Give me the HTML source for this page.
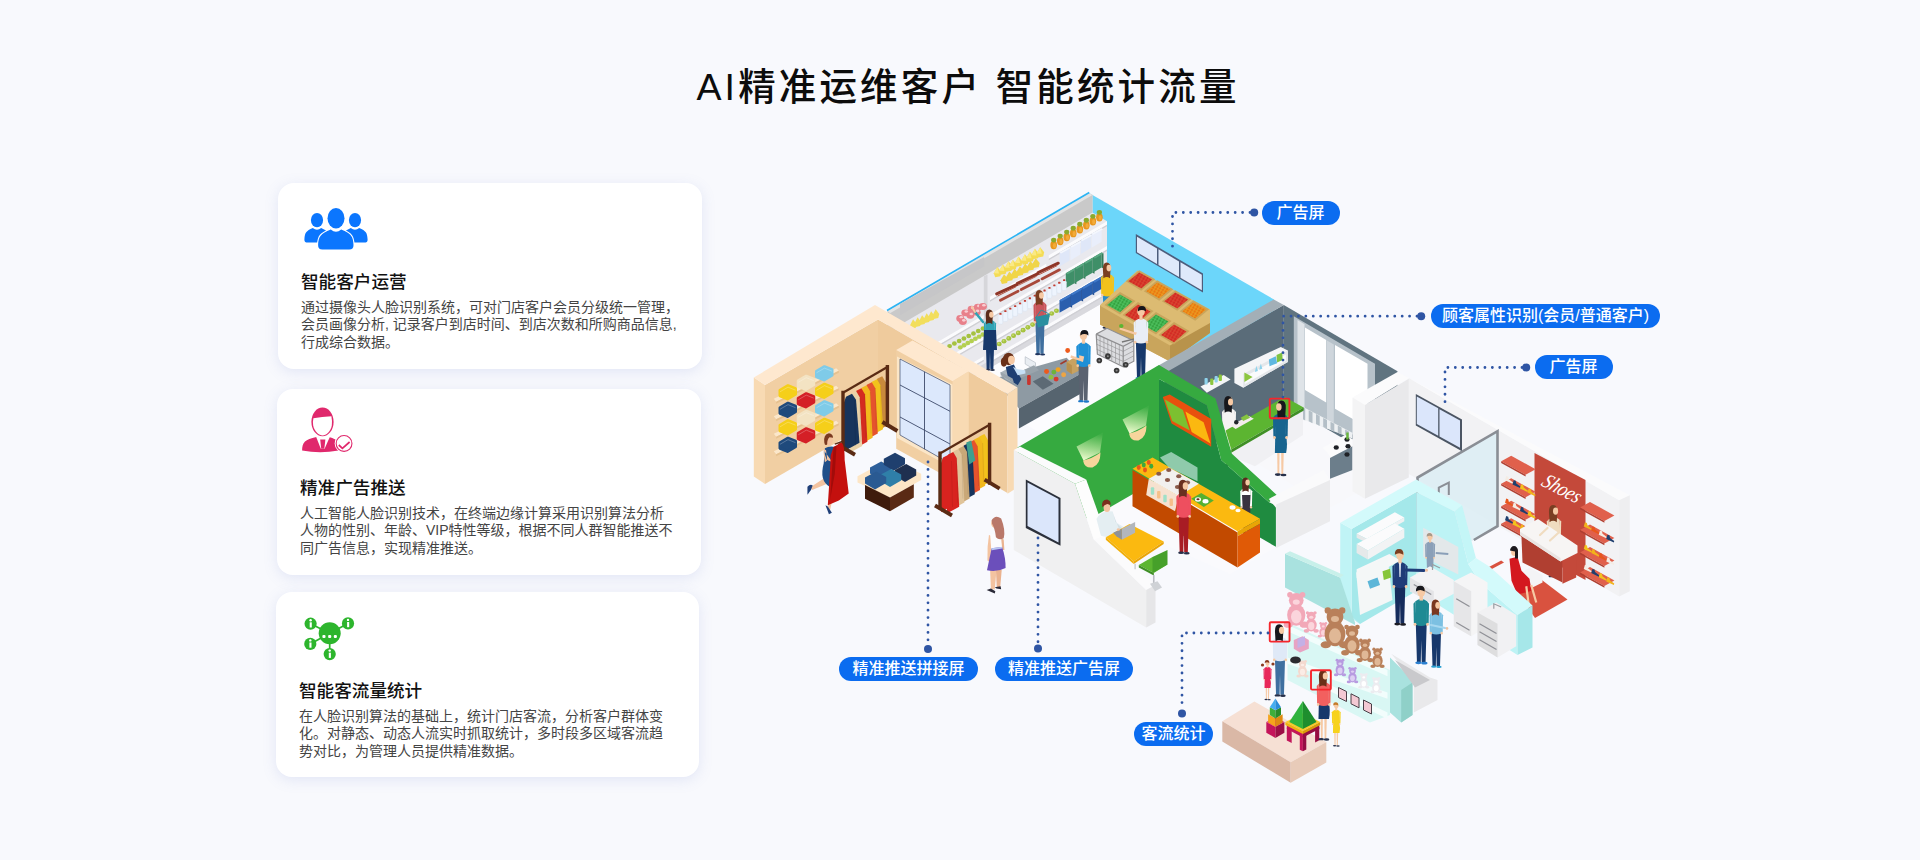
<!DOCTYPE html>
<html lang="zh-CN">
<head>
<meta charset="utf-8">
<title>AI精准运维客户 智能统计流量</title>
<style>
*{margin:0;padding:0;box-sizing:border-box}
html,body{width:1920px;height:860px;overflow:hidden}
body{background:#f8f9fd;font-family:"Liberation Sans","Noto Sans CJK SC",sans-serif;position:relative;color:#111}
h1{position:absolute;left:0;top:58px;width:1936px;text-align:center;font-size:37.5px;line-height:58px;font-weight:500;letter-spacing:3.15px;color:#0c0c0c}
.card{position:absolute;background:#fff;border-radius:16px;box-shadow:0 3px 14px rgba(120,135,210,.17)}
.card svg{position:absolute}
.card h3{position:absolute;left:23px;font-size:17.6px;line-height:24px;font-weight:500;color:#111;white-space:nowrap}
.card p{position:absolute;left:23px;font-size:14px;line-height:17.9px;color:#444;white-space:nowrap}
.lab{position:absolute;background:#0b6cf0;color:#fff;border-radius:12px;height:24px;line-height:23px;font-size:16px;font-weight:500;text-align:center;white-space:nowrap}
#ill{position:absolute;left:0;top:0}
</style>
</head>
<body>
<h1>AI精准运维客户 智能统计流量</h1>

<div class="card" style="left:278px;top:183px;width:424px;height:186px">
  <h3 style="top:86.5px">智能客户运营</h3>
  <p style="top:115.5px">通过摄像头人脸识别系统，可对门店客户会员分级统一管理，<br>会员画像分析, 记录客户到店时间、到店次数和所购商品信息,<br>行成综合数据。</p>
</div>
<div class="card" style="left:277px;top:389px;width:424px;height:186px">
  <h3 style="top:86.5px">精准广告推送</h3>
  <p style="top:115.5px">人工智能人脸识别技术，在终端边缘计算采用识别算法分析<br>人物的性别、年龄、VIP特性等级，根据不同人群智能推送不<br>同广告信息，实现精准推送。</p>
</div>
<div class="card" style="left:276px;top:592px;width:423px;height:185px">
  <h3 style="top:86.5px">智能客流量统计</h3>
  <p style="top:115.5px">在人脸识别算法的基础上，统计门店客流，分析客户群体变<br>化。对静态、动态人流实时抓取统计，多时段多区域客流趋<br>势对比，为管理人员提供精准数据。</p>
</div>

<svg id="icons" width="1920" height="860" viewBox="0 0 1920 860" style="position:absolute;left:0;top:0">
<g fill="#0b76fe">
 <ellipse cx="317" cy="220.1" rx="6.1" ry="7.2"/><ellipse cx="355" cy="220.1" rx="6.1" ry="7.2"/>
 <path d="M304.4 239.4C304.8 232.6 306 231 312.8 228Q317 231.6 321.2 228L326 230.4V242.6H308Q304.2 242.6 304.4 239.4Z"/>
 <path d="M367.6 239.4C367.2 232.6 366 231 359.2 228Q355 231.6 350.8 228L346 230.4V242.6H364Q367.8 242.6 367.6 239.4Z"/>
 <path d="M318.1 245C318.4 236.4 320.6 233.6 330.8 229.4Q336 234.2 341.2 229.4C351.4 233.6 353.2 236.4 353.5 245Q353.6 249.6 349.2 249.6H322.4Q318 249.6 318.1 245Z" stroke="#fff" stroke-width="2.2" paint-order="stroke"/>
 <ellipse cx="336" cy="218.3" rx="8.5" ry="10.2" stroke="#fff" stroke-width="2" paint-order="stroke"/>
</g>
<g fill="#e0286c">
 <ellipse cx="322.5" cy="421.9" rx="11.1" ry="14.3"/>
 <path d="M313.4 418.3Q322 416.6 331.4 416.3Q332.4 421 331.8 425.6C330.8 431.6 326 435.6 322.6 435.6C319.2 435.6 314.2 431.6 313.2 425.6Q312.6 421.4 313.4 418.3Z" fill="#fff"/>
 <path d="M302.1 450.6C302.2 442 305 439.8 316.4 437H328.6C340 439.8 338.6 443 338.6 450.6Q320 454 302.1 450.6Z"/>
 <path d="M316.2 436.9H329.8L324.6 448.8H320.8Z" fill="#fff"/>
 <path d="M320.2 439.4H325.4L324.3 448.8H321.2Z"/>
 <circle cx="344.05" cy="443.45" r="9.4" fill="#fff"/>
 <circle cx="344.05" cy="443.45" r="7.9" fill="#fff" stroke="#e0286c" stroke-width="1.1"/>
 <path d="M338.8 445L342.4 448.3L349.6 442" fill="none" stroke="#e0286c" stroke-width="1.7"/>
</g>
<g fill="#2db52d" stroke="#2db52d">
 <g stroke-width="1.7"><line x1="329.7" y1="633.3" x2="310.6" y2="623.7"/><line x1="329.7" y1="633.3" x2="348" y2="623.4"/><line x1="329.7" y1="633.3" x2="310.3" y2="643.9"/><line x1="329.7" y1="633.3" x2="329.7" y2="654.1"/></g>
 <g stroke="none"><circle cx="329.7" cy="633.3" r="11"/><circle cx="310.6" cy="623.7" r="6.1"/><circle cx="348" cy="623.4" r="6.1"/><circle cx="310.3" cy="643.9" r="6.1"/><circle cx="329.7" cy="654.1" r="6.1"/></g>
 <g fill="#fff" stroke="none">
  <rect x="322.4" y="634.9" width="3.1" height="3" rx="1"/><rect x="328.15" y="634.9" width="3.1" height="3" rx="1"/><rect x="333.8" y="634.9" width="3.1" height="3" rx="1"/>
  <circle cx="310.6" cy="620.2" r="1.2"/><rect x="309.7" y="622.3" width="2.1" height="5.2" />
  <circle cx="348" cy="619.9" r="1.2"/><rect x="347.1" y="622" width="2.1" height="5.2"/>
  <circle cx="310.3" cy="640.4" r="1.2"/><rect x="309.4" y="642.5" width="2.1" height="5.2"/>
  <circle cx="329.7" cy="650.6" r="1.2"/><rect x="328.8" y="652.7" width="2.1" height="5.2"/>
 </g>
</g>
</svg>
<svg id="ill" width="1920" height="860" viewBox="0 0 1920 860">
<defs><pattern id="pr" width="3.2" height="2.8" patternUnits="userSpaceOnUse" patternTransform="rotate(30)"><rect width="3.2" height="2.8" fill="#c92a22"/><circle cx="1.6" cy="1.4" r="1.25" fill="#ee3a30"/><circle cx="1.6" cy="0.9" r="0.4" fill="#5a9a3a"/></pattern><pattern id="po" width="3.2" height="2.8" patternUnits="userSpaceOnUse" patternTransform="rotate(30)"><rect width="3.2" height="2.8" fill="#e2740e"/><circle cx="1.6" cy="1.4" r="1.25" fill="#ff9a1e"/><circle cx="1.6" cy="0.9" r="0.4" fill="#6aa83a"/></pattern><pattern id="pg" width="3.2" height="2.8" patternUnits="userSpaceOnUse" patternTransform="rotate(30)"><rect width="3.2" height="2.8" fill="#2f9a3a"/><circle cx="1.6" cy="1.4" r="1.25" fill="#55cc66"/><circle cx="1.6" cy="0.9" r="0.4" fill="#2a8030"/></pattern></defs>
<polygon points="1089,193 1274,299.5 1274,400 1089,292" fill="#6cd6fa"/>
<polygon points="1135.8,234 1203,273.5 1203,292.5 1135.8,253" fill="#4d5d7c"/>
<polygon points="1137,236.7 1157,248.5 1157,264 1137,252.2" fill="#dfe9fb"/>
<polygon points="1158.5,249.3 1179,261.4 1179,276.9 1158.5,264.9" fill="#dfe9fb"/>
<polygon points="1180.5,262.3 1201.8,274.7 1201.8,290.2 1180.5,277.8" fill="#dfe9fb"/>
<polygon points="1089,292 1274,400 1130,484 930,370" fill="#fcfcfe"/>
<polygon points="1088.8,193 1092.5,195 1092.5,212.5 1107,221.2 1107,300.5 915,411.2 887.5,395 887.5,310" fill="#e9e9ee"/>
<polygon points="1107,293 915,403.8 915,411.2 1107,300.5" fill="#d9d9de"/>
<polygon points="1088.8,193 1092.5,195 1092.5,212.5 890,330.8 887.5,329.5 887.5,310" fill="#c9c9c9"/>
<polygon points="1088.8,193 1092.5,195 890,313.2 887.5,310.8" fill="#e3e3e3"/>
<line x1="1089.25" y1="192.5" x2="887" y2="310.5" stroke="#2bb4f4" stroke-width="1.6"/>
<polygon points="900,304 984.1,256.9 984.1,266.3 900,315.3" fill="#c6c6c8"/>
<polygon points="983.8,276.2 987.5,274.5 987.5,340 983.8,342.5" fill="#d6d6da"/>
<polygon points="1107,221.2 1048.8,255.3 1048.8,258.8 1107,224.8" fill="#fbfbfd"/>
<polygon points="1107,224.8 1048.8,258.8 1048.8,260.3 1107,226.2" fill="#cfcfd4"/>
<polygon points="1107,246 990,314.4 990,317.9 1107,249.5" fill="#fbfbfd"/>
<polygon points="1107,249.5 990,317.9 990,319.4 1107,251" fill="#cfcfd4"/>
<polygon points="1107,271.5 990,339.9 990,343.4 1107,275" fill="#fbfbfd"/>
<polygon points="1107,275 990,343.4 990,344.9 1107,276.5" fill="#cfcfd4"/>
<polygon points="1107,290 990,358.4 990,361.9 1107,293.5" fill="#fbfbfd"/>
<polygon points="1107,293.5 990,361.9 990,363.4 1107,295" fill="#cfcfd4"/>
<polygon points="1046.2,263.8 990,296.7 990,300.2 1046.2,267.2" fill="#fbfbfd"/>
<polygon points="1046.2,267.2 990,300.2 990,301.7 1046.2,268.8" fill="#cfcfd4"/>
<polygon points="983.8,315 915,355.2 915,358.7 983.8,318.5" fill="#fbfbfd"/>
<polygon points="983.8,318.5 915,358.7 915,360.2 983.8,320" fill="#cfcfd4"/>
<polygon points="983.8,336.2 925,370.6 925,374.1 983.8,339.8" fill="#fbfbfd"/>
<polygon points="983.8,339.8 925,374.1 925,375.6 983.8,341.2" fill="#cfcfd4"/>
<polygon points="983.8,356.2 940,381.8 940,385.3 983.8,359.8" fill="#fbfbfd"/>
<polygon points="983.8,359.8 940,385.3 940,386.8 983.8,361.2" fill="#cfcfd4"/>
<ellipse cx="1053.69" cy="245.03" rx="3.3" ry="4.2" fill="#e8961e"/>
<ellipse cx="1053.69" cy="240.03" rx="2.6" ry="2.4" fill="#8aaa2e"/>
<ellipse cx="1054.49" cy="245.53" rx="1.6" ry="2.6" fill="#f2ab3a"/>
<ellipse cx="1060.22" cy="241.08" rx="3.3" ry="4.2" fill="#e8961e"/>
<ellipse cx="1060.22" cy="236.08" rx="2.6" ry="2.4" fill="#8aaa2e"/>
<ellipse cx="1061.02" cy="241.58" rx="1.6" ry="2.6" fill="#f2ab3a"/>
<ellipse cx="1066.75" cy="237.12" rx="3.3" ry="4.2" fill="#e8961e"/>
<ellipse cx="1066.75" cy="232.12" rx="2.6" ry="2.4" fill="#8aaa2e"/>
<ellipse cx="1067.55" cy="237.62" rx="1.6" ry="2.6" fill="#f2ab3a"/>
<ellipse cx="1073.28" cy="233.16" rx="3.3" ry="4.2" fill="#e8961e"/>
<ellipse cx="1073.28" cy="228.16" rx="2.6" ry="2.4" fill="#8aaa2e"/>
<ellipse cx="1074.08" cy="233.66" rx="1.6" ry="2.6" fill="#f2ab3a"/>
<ellipse cx="1079.81" cy="229.21" rx="3.3" ry="4.2" fill="#e8961e"/>
<ellipse cx="1079.81" cy="224.21" rx="2.6" ry="2.4" fill="#8aaa2e"/>
<ellipse cx="1080.61" cy="229.71" rx="1.6" ry="2.6" fill="#f2ab3a"/>
<ellipse cx="1086.34" cy="225.25" rx="3.3" ry="4.2" fill="#e8961e"/>
<ellipse cx="1086.34" cy="220.25" rx="2.6" ry="2.4" fill="#8aaa2e"/>
<ellipse cx="1087.14" cy="225.75" rx="1.6" ry="2.6" fill="#f2ab3a"/>
<ellipse cx="1092.87" cy="221.3" rx="3.3" ry="4.2" fill="#e8961e"/>
<ellipse cx="1092.87" cy="216.3" rx="2.6" ry="2.4" fill="#8aaa2e"/>
<ellipse cx="1093.67" cy="221.8" rx="1.6" ry="2.6" fill="#f2ab3a"/>
<ellipse cx="1099.4" cy="217.34" rx="3.3" ry="4.2" fill="#e8961e"/>
<ellipse cx="1099.4" cy="212.34" rx="2.6" ry="2.4" fill="#8aaa2e"/>
<ellipse cx="1100.2" cy="217.84" rx="1.6" ry="2.6" fill="#f2ab3a"/>
<polygon points="1059.6,252.6 1069.6,247.1 1069.6,260.6 1059.6,266.6" fill="#dfe7f8"/>
<polygon points="1059.6,252.6 1069.6,247.1 1071.1,248.1 1061.1,253.6" fill="#f4f7fd"/>
<polygon points="1070.3,246.4 1080.3,240.9 1080.3,254.4 1070.3,260.4" fill="#e9eefb"/>
<polygon points="1070.3,246.4 1080.3,240.9 1081.8,241.9 1071.8,247.4" fill="#f4f7fd"/>
<polygon points="1080.9,240.1 1090.9,234.6 1090.9,248.1 1080.9,254.1" fill="#dfe7f8"/>
<polygon points="1080.9,240.1 1090.9,234.6 1092.4,235.6 1082.4,241.1" fill="#f4f7fd"/>
<polygon points="1091.6,233.8 1101.6,228.3 1101.6,241.8 1091.6,247.8" fill="#e9eefb"/>
<polygon points="1091.6,233.8 1101.6,228.3 1103.1,229.3 1093.1,234.8" fill="#f4f7fd"/>
<polygon points="1065.8,273.3 1074.4,268.3 1074.4,283.3 1065.8,288.3" fill="#3f8f68"/>
<polygon points="1074.4,268.3 1076.4,269.3 1076.4,284.3 1074.4,283.3" fill="#347a58"/>
<polygon points="1065.8,273.3 1074.4,268.3 1076.4,269.3 1067.8,274.3" fill="#5aa882"/>
<polygon points="1074.8,268 1083.4,263 1083.4,278 1074.8,283" fill="#3f8f68"/>
<polygon points="1083.4,263 1085.4,264 1085.4,279 1083.4,278" fill="#347a58"/>
<polygon points="1074.8,268 1083.4,263 1085.4,264 1076.8,269" fill="#5aa882"/>
<polygon points="1083.9,262.8 1092.5,257.8 1092.5,272.8 1083.9,277.8" fill="#3f8f68"/>
<polygon points="1092.5,257.8 1094.5,258.8 1094.5,273.8 1092.5,272.8" fill="#347a58"/>
<polygon points="1083.9,262.8 1092.5,257.8 1094.5,258.8 1085.9,263.8" fill="#5aa882"/>
<polygon points="1092.9,257.5 1101.5,252.5 1101.5,267.5 1092.9,272.5" fill="#3f8f68"/>
<polygon points="1101.5,252.5 1103.5,253.5 1103.5,268.5 1101.5,267.5" fill="#347a58"/>
<polygon points="1092.9,257.5 1101.5,252.5 1103.5,253.5 1094.9,258.5" fill="#5aa882"/>
<polygon points="1059.5,300.3 1070.1,294.2 1070.1,306.8 1059.5,312.8" fill="#2a5fae"/>
<polygon points="1070.1,294.2 1072.1,295.4 1072.1,307.8 1070.1,306.8" fill="#1f4a8e"/>
<polygon points="1059.5,300.3 1070.1,294.2 1072.1,295.4 1061.5,301.5" fill="#3f78c8"/>
<polygon points="1070.5,294 1081.1,287.9 1081.1,300.5 1070.5,306.5" fill="#2a5fae"/>
<polygon points="1081.1,287.9 1083.1,289.1 1083.1,301.5 1081.1,300.5" fill="#1f4a8e"/>
<polygon points="1070.5,294 1081.1,287.9 1083.1,289.1 1072.5,295.2" fill="#3f78c8"/>
<polygon points="1081.6,287.7 1092.2,281.6 1092.2,294.2 1081.6,300.2" fill="#2a5fae"/>
<polygon points="1092.2,281.6 1094.2,282.8 1094.2,295.2 1092.2,294.2" fill="#1f4a8e"/>
<polygon points="1081.6,287.7 1092.2,281.6 1094.2,282.8 1083.6,288.9" fill="#3f78c8"/>
<polygon points="1092.7,281.5 1103.2,275.4 1103.2,288 1092.7,294" fill="#2a5fae"/>
<polygon points="1103.2,275.4 1105.2,276.6 1105.2,289 1103.2,288" fill="#1f4a8e"/>
<polygon points="1092.7,281.5 1103.2,275.4 1105.2,276.6 1094.7,282.7" fill="#3f78c8"/>
<path d="M993.8 273.29 l3.6 -6.4 l4 5 l-1 4.4 l-5.2 1 z" fill="#f4dc55"/>
<path d="M993.8 273.29 l3.6 -6.4 l1.6 6.6 z" fill="#fae985"/>
<path d="M999.27 270.85 l3.6 -6.4 l4 5 l-1 4.4 l-5.2 1 z" fill="#f4dc55"/>
<path d="M999.27 270.85 l3.6 -6.4 l1.6 6.6 z" fill="#fae985"/>
<path d="M1004.93 267.66 l3.6 -6.4 l4 5 l-1 4.4 l-5.2 1 z" fill="#f4dc55"/>
<path d="M1004.93 267.66 l3.6 -6.4 l1.6 6.6 z" fill="#fae985"/>
<path d="M1009.28 266.12 l3.6 -6.4 l4 5 l-1 4.4 l-5.2 1 z" fill="#f4dc55"/>
<path d="M1009.28 266.12 l3.6 -6.4 l1.6 6.6 z" fill="#fae985"/>
<path d="M1014.93 262.85 l3.6 -6.4 l4 5 l-1 4.4 l-5.2 1 z" fill="#f4dc55"/>
<path d="M1014.93 262.85 l3.6 -6.4 l1.6 6.6 z" fill="#fae985"/>
<path d="M1021.31 260.64 l3.6 -6.4 l4 5 l-1 4.4 l-5.2 1 z" fill="#f4dc55"/>
<path d="M1021.31 260.64 l3.6 -6.4 l1.6 6.6 z" fill="#fae985"/>
<path d="M1026.35 258.13 l3.6 -6.4 l4 5 l-1 4.4 l-5.2 1 z" fill="#f4dc55"/>
<path d="M1026.35 258.13 l3.6 -6.4 l1.6 6.6 z" fill="#fae985"/>
<path d="M1031.32 255.21 l3.6 -6.4 l4 5 l-1 4.4 l-5.2 1 z" fill="#f4dc55"/>
<path d="M1031.32 255.21 l3.6 -6.4 l1.6 6.6 z" fill="#fae985"/>
<path d="M1036.59 253.6 l3.6 -6.4 l4 5 l-1 4.4 l-5.2 1 z" fill="#f4dc55"/>
<path d="M1036.59 253.6 l3.6 -6.4 l1.6 6.6 z" fill="#fae985"/>
<path d="M1000.47 280.14 l3.6 -6 l4 4.8 l-1 4 l-5.2 1 z" fill="#f0d548"/>
<path d="M1005.75 277.5 l3.6 -6 l4 4.8 l-1 4 l-5.2 1 z" fill="#f0d548"/>
<path d="M1011.02 274.87 l3.6 -6 l4 4.8 l-1 4 l-5.2 1 z" fill="#f0d548"/>
<path d="M1016.3 272.23 l3.6 -6 l4 4.8 l-1 4 l-5.2 1 z" fill="#f0d548"/>
<path d="M1021.57 269.59 l3.6 -6 l4 4.8 l-1 4 l-5.2 1 z" fill="#f0d548"/>
<path d="M1026.84 266.95 l3.6 -6 l4 4.8 l-1 4 l-5.2 1 z" fill="#f0d548"/>
<path d="M1032.12 264.32 l3.6 -6 l4 4.8 l-1 4 l-5.2 1 z" fill="#f0d548"/>
<line x1="996.7" y1="293.96" x2="1016.8" y2="284.54" stroke="#8e3527" stroke-width="3" stroke-linecap="round"/>
<line x1="1000.47" y1="300.24" x2="1018.05" y2="291.19" stroke="#a8483a" stroke-width="2.8" stroke-linecap="round"/>
<line x1="997.96" y1="295.84" x2="1015.54" y2="287.05" stroke="#b85a48" stroke-width="1" stroke-linecap="round"/>
<line x1="1017.43" y1="283.28" x2="1037.52" y2="273.86" stroke="#8e3527" stroke-width="3" stroke-linecap="round"/>
<line x1="1021.19" y1="289.56" x2="1038.78" y2="280.52" stroke="#a8483a" stroke-width="2.8" stroke-linecap="round"/>
<line x1="1018.68" y1="285.16" x2="1036.26" y2="276.37" stroke="#b85a48" stroke-width="1" stroke-linecap="round"/>
<line x1="1038.15" y1="272.61" x2="1058.24" y2="263.19" stroke="#8e3527" stroke-width="3" stroke-linecap="round"/>
<line x1="1041.92" y1="278.89" x2="1059.5" y2="269.84" stroke="#a8483a" stroke-width="2.8" stroke-linecap="round"/>
<line x1="1039.4" y1="274.49" x2="1056.99" y2="265.7" stroke="#b85a48" stroke-width="1" stroke-linecap="round"/>
<rect x="998.17" y="314.6" width="4.6" height="9.5" rx="1.3" fill="#eef4fd" stroke="#d5e0f0" stroke-width="0.4"/>
<rect x="999.37" y="312.9" width="2.2" height="1.8" rx="0.5" fill="#c23a30"/>
<rect x="1003.07" y="312.01" width="4.6" height="9.5" rx="1.3" fill="#eef4fd" stroke="#d5e0f0" stroke-width="0.4"/>
<rect x="1004.27" y="310.31" width="2.2" height="1.8" rx="0.5" fill="#c23a30"/>
<rect x="1007.97" y="309.42" width="4.6" height="9.5" rx="1.3" fill="#eef4fd" stroke="#d5e0f0" stroke-width="0.4"/>
<rect x="1009.17" y="307.72" width="2.2" height="1.8" rx="0.5" fill="#c23a30"/>
<rect x="1012.86" y="306.84" width="4.6" height="9.5" rx="1.3" fill="#eef4fd" stroke="#d5e0f0" stroke-width="0.4"/>
<rect x="1014.06" y="305.14" width="2.2" height="1.8" rx="0.5" fill="#c23a30"/>
<rect x="1017.76" y="304.25" width="4.6" height="9.5" rx="1.3" fill="#eef4fd" stroke="#d5e0f0" stroke-width="0.4"/>
<rect x="1018.96" y="302.55" width="2.2" height="1.8" rx="0.5" fill="#c23a30"/>
<rect x="1022.66" y="301.66" width="4.6" height="9.5" rx="1.3" fill="#eef4fd" stroke="#d5e0f0" stroke-width="0.4"/>
<rect x="1023.86" y="299.96" width="2.2" height="1.8" rx="0.5" fill="#c23a30"/>
<rect x="1027.56" y="299.07" width="4.6" height="9.5" rx="1.3" fill="#eef4fd" stroke="#d5e0f0" stroke-width="0.4"/>
<rect x="1028.76" y="297.37" width="2.2" height="1.8" rx="0.5" fill="#c23a30"/>
<rect x="1032.46" y="296.49" width="4.6" height="9.5" rx="1.3" fill="#eef4fd" stroke="#d5e0f0" stroke-width="0.4"/>
<rect x="1033.66" y="294.79" width="2.2" height="1.8" rx="0.5" fill="#c23a30"/>
<rect x="1037.35" y="293.9" width="4.6" height="9.5" rx="1.3" fill="#eef4fd" stroke="#d5e0f0" stroke-width="0.4"/>
<rect x="1038.55" y="292.2" width="2.2" height="1.8" rx="0.5" fill="#c23a30"/>
<rect x="1042.25" y="291.31" width="4.6" height="9.5" rx="1.3" fill="#eef4fd" stroke="#d5e0f0" stroke-width="0.4"/>
<rect x="1043.45" y="289.61" width="2.2" height="1.8" rx="0.5" fill="#c23a30"/>
<rect x="1047.15" y="288.73" width="4.6" height="9.5" rx="1.3" fill="#eef4fd" stroke="#d5e0f0" stroke-width="0.4"/>
<rect x="1048.35" y="287.03" width="2.2" height="1.8" rx="0.5" fill="#c23a30"/>
<rect x="1052.05" y="286.14" width="4.6" height="9.5" rx="1.3" fill="#eef4fd" stroke="#d5e0f0" stroke-width="0.4"/>
<rect x="1053.25" y="284.44" width="2.2" height="1.8" rx="0.5" fill="#c23a30"/>
<rect x="1056.95" y="283.55" width="4.6" height="9.5" rx="1.3" fill="#eef4fd" stroke="#d5e0f0" stroke-width="0.4"/>
<rect x="1058.15" y="281.85" width="2.2" height="1.8" rx="0.5" fill="#c23a30"/>
<rect x="1061.84" y="280.96" width="4.6" height="9.5" rx="1.3" fill="#eef4fd" stroke="#d5e0f0" stroke-width="0.4"/>
<rect x="1063.04" y="279.26" width="2.2" height="1.8" rx="0.5" fill="#c23a30"/>
<ellipse cx="960.28" cy="318.45" rx="4" ry="3.4" fill="#e8808a"/>
<ellipse cx="961.29" cy="317.19" rx="1.8" ry="1.3" fill="#f9cdd2"/>
<ellipse cx="965.31" cy="312.79" rx="4" ry="3.4" fill="#e8808a"/>
<ellipse cx="966.31" cy="311.54" rx="1.8" ry="1.3" fill="#f9cdd2"/>
<ellipse cx="971.59" cy="309.03" rx="4" ry="3.4" fill="#e8808a"/>
<ellipse cx="972.59" cy="307.77" rx="1.8" ry="1.3" fill="#f9cdd2"/>
<ellipse cx="977.86" cy="307.14" rx="4" ry="3.4" fill="#e8808a"/>
<ellipse cx="978.87" cy="305.89" rx="1.8" ry="1.3" fill="#f9cdd2"/>
<ellipse cx="982.89" cy="306.51" rx="4" ry="3.4" fill="#e8808a"/>
<ellipse cx="983.89" cy="305.26" rx="1.8" ry="1.3" fill="#f9cdd2"/>
<ellipse cx="962.79" cy="321.59" rx="4" ry="3.4" fill="#e8808a"/>
<ellipse cx="963.8" cy="320.33" rx="1.8" ry="1.3" fill="#f9cdd2"/>
<ellipse cx="970.33" cy="315.31" rx="4" ry="3.4" fill="#e8808a"/>
<ellipse cx="971.33" cy="314.05" rx="1.8" ry="1.3" fill="#f9cdd2"/>
<ellipse cx="976.61" cy="312.17" rx="4" ry="3.4" fill="#e8808a"/>
<ellipse cx="977.61" cy="310.91" rx="1.8" ry="1.3" fill="#f9cdd2"/>
<path d="M910.05 325.35 l3 -6 l3.6 4.6 l-1 4 l-4.6 1 z" fill="#f2de5c"/>
<path d="M914.57 323.34 l3 -6 l3.6 4.6 l-1 4 l-4.6 1 z" fill="#f2de5c"/>
<path d="M919.09 321.33 l3 -6 l3.6 4.6 l-1 4 l-4.6 1 z" fill="#f2de5c"/>
<path d="M923.61 319.32 l3 -6 l3.6 4.6 l-1 4 l-4.6 1 z" fill="#f2de5c"/>
<path d="M928.13 317.32 l3 -6 l3.6 4.6 l-1 4 l-4.6 1 z" fill="#f2de5c"/>
<path d="M932.65 315.31 l3 -6 l3.6 4.6 l-1 4 l-4.6 1 z" fill="#f2de5c"/>
<ellipse cx="949.61" cy="346.08" rx="2.4" ry="2.2" fill="#a5c241"/>
<ellipse cx="960.28" cy="347.33" rx="2.4" ry="2.2" fill="#b4d050"/>
<ellipse cx="954.38" cy="343.56" rx="2.4" ry="2.2" fill="#a5c241"/>
<ellipse cx="964.05" cy="345.2" rx="2.4" ry="2.2" fill="#b4d050"/>
<ellipse cx="959.15" cy="341.05" rx="2.4" ry="2.2" fill="#a5c241"/>
<ellipse cx="967.82" cy="343.06" rx="2.4" ry="2.2" fill="#b4d050"/>
<ellipse cx="963.92" cy="338.54" rx="2.4" ry="2.2" fill="#a5c241"/>
<ellipse cx="971.59" cy="340.93" rx="2.4" ry="2.2" fill="#b4d050"/>
<ellipse cx="968.7" cy="336.03" rx="2.4" ry="2.2" fill="#a5c241"/>
<ellipse cx="975.35" cy="338.79" rx="2.4" ry="2.2" fill="#b4d050"/>
<ellipse cx="973.47" cy="333.52" rx="2.4" ry="2.2" fill="#a5c241"/>
<ellipse cx="979.12" cy="336.66" rx="2.4" ry="2.2" fill="#b4d050"/>
<ellipse cx="978.24" cy="331" rx="2.4" ry="2.2" fill="#a5c241"/>
<ellipse cx="982.89" cy="334.52" rx="2.4" ry="2.2" fill="#b4d050"/>
<ellipse cx="983.01" cy="328.49" rx="2.4" ry="2.2" fill="#a5c241"/>
<ellipse cx="986.66" cy="332.39" rx="2.4" ry="2.2" fill="#b4d050"/>
<ellipse cx="999.22" cy="343.94" rx="2.5" ry="2.3" fill="#a5c241"/>
<circle cx="998.71" cy="343.44" r="0.9" fill="#c6dd6e"/>
<ellipse cx="1003.99" cy="341.18" rx="2.5" ry="2.3" fill="#a5c241"/>
<circle cx="1003.49" cy="340.68" r="0.9" fill="#c6dd6e"/>
<ellipse cx="1008.76" cy="338.41" rx="2.5" ry="2.3" fill="#a5c241"/>
<circle cx="1008.26" cy="337.91" r="0.9" fill="#c6dd6e"/>
<ellipse cx="1013.53" cy="335.65" rx="2.5" ry="2.3" fill="#a5c241"/>
<circle cx="1013.03" cy="335.15" r="0.9" fill="#c6dd6e"/>
<ellipse cx="1018.3" cy="332.89" rx="2.5" ry="2.3" fill="#a5c241"/>
<circle cx="1017.8" cy="332.39" r="0.9" fill="#c6dd6e"/>
<ellipse cx="1023.08" cy="330.13" rx="2.5" ry="2.3" fill="#a5c241"/>
<circle cx="1022.57" cy="329.62" r="0.9" fill="#c6dd6e"/>
<ellipse cx="1027.85" cy="327.36" rx="2.5" ry="2.3" fill="#a5c241"/>
<circle cx="1027.35" cy="326.86" r="0.9" fill="#c6dd6e"/>
<ellipse cx="1032.62" cy="324.6" rx="2.5" ry="2.3" fill="#a5c241"/>
<circle cx="1032.12" cy="324.1" r="0.9" fill="#c6dd6e"/>
<ellipse cx="1037.39" cy="321.84" rx="2.5" ry="2.3" fill="#a5c241"/>
<circle cx="1036.89" cy="321.33" r="0.9" fill="#c6dd6e"/>
<ellipse cx="1042.17" cy="319.07" rx="2.5" ry="2.3" fill="#a5c241"/>
<circle cx="1041.66" cy="318.57" r="0.9" fill="#c6dd6e"/>
<ellipse cx="1046.94" cy="316.31" rx="2.5" ry="2.3" fill="#a5c241"/>
<circle cx="1046.44" cy="315.81" r="0.9" fill="#c6dd6e"/>
<ellipse cx="1051.71" cy="313.55" rx="2.5" ry="2.3" fill="#a5c241"/>
<circle cx="1051.21" cy="313.05" r="0.9" fill="#c6dd6e"/>
<ellipse cx="1056.48" cy="310.78" rx="2.5" ry="2.3" fill="#a5c241"/>
<circle cx="1055.98" cy="310.28" r="0.9" fill="#c6dd6e"/>
<path d="M1102.88 294.18 L1112.12 294.18 L1111.13 327.18 L1107.9 327.18 L1107.5 308.7 L1107.1 327.18 L1103.87 327.18 Z" fill="#2b8cc9"/>
<ellipse cx="1105.12" cy="327.71" rx="2.64" ry="1.122" fill="#27304a"/>
<ellipse cx="1110.14" cy="327.97" rx="2.64" ry="1.122" fill="#27304a"/>
<path d="M1102.55 275.7 Q1107.5 271.74 1112.45 275.7 L1112.12 295.5 Q1107.5 297.48 1102.88 295.5 L1102.55 275.7 L1102.55 275.7 Z" fill="#f2c21c"/>
<path d="M1102.55 275.7 L1100.9 277.68 L1101.23 294.18 L1103.41 294.18 Z" fill="#f2c21c"/>
<path d="M1112.45 275.7 L1114.1 277.68 L1113.77 294.18 L1111.59 294.18 Z" fill="#f2c21c"/>
<ellipse cx="1102.22" cy="295.17" rx="1.188" ry="1.32" fill="#f6c9a4"/>
<ellipse cx="1112.78" cy="295.17" rx="1.188" ry="1.32" fill="#f6c9a4"/>
<path d="M1106.05 271.08 L1108.95 271.08 L1108.95 275.04 L1106.05 275.04 Z" fill="#f6c9a4"/>
<ellipse cx="1107.5" cy="267.45" rx="3.432" ry="4.224" fill="#f6c9a4"/>
<path d="M1102.88 269.1 Q1102.75 262.5 1106.71 262.5 Q1110.93 262.5 1110.54 269.1 L1110.01 278.34 Q1106.71 275.7 1103.41 278.34 Z" fill="#7a3e22"/>
<ellipse cx="1108.93" cy="268.11" rx="2.376" ry="3.3" fill="#f6c9a4"/>
<polygon points="1100,305 1137.5,270.5 1210,309.5 1210,333 1170,361.5 1100,324.5" fill="#dcbb72"/>
<polygon points="1100,305.8 1170,345.5 1170,361.5 1100,324.5" fill="#c9a55c"/>
<polygon points="1170,345.5 1210,323 1210,333 1170,361.5" fill="#b8934b"/>
<polygon points="1125.8,281.2 1139.2,270.2 1155.2,279.2 1141.2,290.8" fill="#c9a55c"/>
<polygon points="1128.2,281.2 1139.2,272.5 1152.2,279.5 1141.2,288.5" fill="url(#pr)"/>
<polygon points="1104.5,305 1120,292 1135.5,301 1120,314.5" fill="#c9a55c"/>
<polygon points="1107,305 1120,294.5 1132.5,301.5 1120,312.2" fill="url(#pg)"/>
<polygon points="1143.8,291.2 1157.2,280.2 1173.2,289.2 1159.2,300.8" fill="#c9a55c"/>
<polygon points="1146.2,291.2 1157.2,282.5 1170.2,289.5 1159.2,298.5" fill="url(#po)"/>
<polygon points="1122.5,315 1138,302 1153.5,311 1138,324.5" fill="#c9a55c"/>
<polygon points="1125,315 1138,304.5 1150.5,311.5 1138,322.2" fill="url(#pr)"/>
<polygon points="1161.8,301.2 1175.2,290.2 1191.2,299.2 1177.2,310.8" fill="#c9a55c"/>
<polygon points="1164.2,301.2 1175.2,292.5 1188.2,299.5 1177.2,308.5" fill="url(#pr)"/>
<polygon points="1140.5,325 1156,312 1171.5,321 1156,334.5" fill="#c9a55c"/>
<polygon points="1143,325 1156,314.5 1168.5,321.5 1156,332.2" fill="url(#pg)"/>
<polygon points="1179.8,311.2 1193.2,300.2 1209.2,309.2 1195.2,320.8" fill="#c9a55c"/>
<polygon points="1182.2,311.2 1193.2,302.5 1206.2,309.5 1195.2,318.5" fill="url(#po)"/>
<polygon points="1158.5,335 1174,322 1189.5,331 1174,344.5" fill="#c9a55c"/>
<polygon points="1161,335 1174,324.5 1186.5,331.5 1174,342.2" fill="url(#pr)"/>
<polygon points="992.6,379 1066.7,357.7 1081.1,373.4 1018.9,408.5" fill="#8e9aa3"/>
<polygon points="1018.9,408.5 1081.1,373.4 1081.1,393.5 1018.9,428.6" fill="#56646f"/>
<polygon points="1000.1,372.8 1011.4,366.5 1017.7,370.2 1017.7,385.3 1005.1,379" fill="#aab4bb"/>
<polygon points="1032.8,381.5 1042.8,376.3 1053.5,383.8 1042.8,389.8" fill="#5d6a75"/>
<line x1="1060.38" y1="363.96" x2="1066.66" y2="360.44" stroke="#a13a2c" stroke-width="1.6"/>
<polygon points="1025.2,356.7 1035.5,362.7 1035.5,370 1025.2,364" fill="#e9edf2" stroke="#aeb6bf" stroke-width="0.6"/>
<polygon points="1017.7,372.8 1034,365.2 1039,370.2 1021.4,377.8" fill="#9aa4ac"/>
<rect x="1027.1" y="375.01" width="3.6" height="10" rx="1.3" fill="#c8352e"/>
<ellipse cx="1046.56" cy="371.49" rx="2.5" ry="2.4" fill="#ee5a1c"/>
<ellipse cx="1053.85" cy="372.12" rx="2.5" ry="2.4" fill="#6db33a"/>
<ellipse cx="1058.12" cy="369.61" rx="2.5" ry="2.4" fill="#f2a21c"/>
<ellipse cx="1050.96" cy="377.14" rx="2.5" ry="2.4" fill="#8fc13f"/>
<ellipse cx="1056.11" cy="379.03" rx="2.5" ry="2.4" fill="#d8392e"/>
<ellipse cx="1063.64" cy="374.76" rx="2.5" ry="2.4" fill="#eda545"/>
<polygon points="1066.7,362.1 1075.5,356.7 1079.8,358.3 1079.8,370.2 1071.9,374.2 1066.7,370.5" fill="#c8a261"/>
<polygon points="1066.7,362.1 1071.9,365.2 1071.9,374.2 1066.7,370.5" fill="#b8904d"/>
<ellipse cx="1067.66" cy="350.52" rx="2.4" ry="2.4" fill="#ee5a1c"/>
<ellipse cx="1008.63" cy="358.93" rx="5.6" ry="6.2" fill="#6a3018"/>
<ellipse cx="1011.4" cy="359.94" rx="3.4" ry="4.2" fill="#f6c9a4"/>
<ellipse cx="1003.86" cy="362.07" rx="3" ry="4.6" fill="#6a3018"/>
<polygon points="1005.8,367.1 1013.9,364.6 1017.7,372.8 1021.4,379 1017.7,385.3 1008.3,379" fill="#1f3f72"/>
<polygon points="1012.9,366.7 1017.7,369.2 1025.2,370.2 1025.5,373.4 1017.7,375.3" fill="#c6dff6"/>
<polygon points="1000.7,372.1 1012.6,378.4 1013.9,382.8 1000.7,375.3" fill="#9aa4ac"/>
<polygon points="1096.2,334.1 1107.1,328.3 1133.8,340.7 1133.8,361.2 1123.2,366.7 1097.4,354.2" fill="#dcdde0"/>
<polyline points="1096.2,334.1 1107.1,328.3 1133.8,340.7 1123.2,346.4 1096.2,334.1" fill="none" stroke="#8e8e90" stroke-width="1.2"/>
<polyline points="1096.2,334.1 1097.4,354.2 1123.2,366.7 1123.2,346.4" fill="none" stroke="#8e8e90" stroke-width="1.2"/>
<polyline points="1123.2,366.7 1133.8,361.2 1133.8,340.7" fill="none" stroke="#8e8e90" stroke-width="1.2"/>
<line x1="1100.03" y1="335.82" x2="1100.2" y2="355.79" stroke="#8e8e90" stroke-width="0.6"/>
<line x1="1103.88" y1="337.58" x2="1104.06" y2="357.43" stroke="#8e8e90" stroke-width="0.6"/>
<line x1="1107.74" y1="339.34" x2="1107.91" y2="359.06" stroke="#8e8e90" stroke-width="0.6"/>
<line x1="1111.59" y1="341.1" x2="1111.77" y2="360.69" stroke="#8e8e90" stroke-width="0.6"/>
<line x1="1115.45" y1="342.86" x2="1115.62" y2="362.32" stroke="#8e8e90" stroke-width="0.6"/>
<line x1="1119.3" y1="344.62" x2="1119.48" y2="363.96" stroke="#8e8e90" stroke-width="0.6"/>
<line x1="1096.42" y1="339.09" x2="1123.17" y2="351.4" stroke="#8e8e90" stroke-width="0.6"/>
<line x1="1123.17" y1="351.4" x2="1133.85" y2="345.75" stroke="#8e8e90" stroke-width="0.6"/>
<line x1="1096.42" y1="344.11" x2="1123.17" y2="356.42" stroke="#8e8e90" stroke-width="0.6"/>
<line x1="1123.17" y1="356.42" x2="1133.85" y2="350.77" stroke="#8e8e90" stroke-width="0.6"/>
<line x1="1096.42" y1="349.14" x2="1123.17" y2="361.44" stroke="#8e8e90" stroke-width="0.6"/>
<line x1="1123.17" y1="361.44" x2="1133.85" y2="355.79" stroke="#8e8e90" stroke-width="0.6"/>
<line x1="1121.92" y1="341.98" x2="1134.47" y2="338.84" stroke="#777" stroke-width="1.4"/>
<circle cx="1099.31" cy="360.44" r="2.8" fill="#3a3a3a"/>
<circle cx="1099.31" cy="360.44" r="1" fill="#8a8a8a"/>
<circle cx="1107.85" cy="356.17" r="2.8" fill="#3a3a3a"/>
<circle cx="1107.85" cy="356.17" r="1" fill="#8a8a8a"/>
<circle cx="1116.64" cy="370.49" r="2.8" fill="#3a3a3a"/>
<circle cx="1116.64" cy="370.49" r="1" fill="#8a8a8a"/>
<circle cx="1125.68" cy="364.71" r="2.8" fill="#3a3a3a"/>
<circle cx="1125.68" cy="364.71" r="1" fill="#8a8a8a"/>
<path d="M1035.45 321.2 L1044.55 321.2 L1043.58 353.7 L1040.39 353.7 L1040 335.5 L1039.61 353.7 L1036.42 353.7 Z" fill="#3f6f9f"/>
<ellipse cx="1037.66" cy="354.22" rx="2.6" ry="1.105" fill="#1f3560"/>
<ellipse cx="1042.6" cy="354.48" rx="2.6" ry="1.105" fill="#1f3560"/>
<path d="M1035.12 303 Q1040 299.1 1044.88 303 L1044.55 322.5 Q1040 324.45 1035.45 322.5 L1035.12 303 L1035.12 303 Z" fill="#c9545a"/>
<path d="M1035.12 303 L1033.5 304.95 L1033.83 321.2 L1035.97 321.2 Z" fill="#c9545a"/>
<path d="M1044.88 303 L1046.5 304.95 L1046.17 321.2 L1044.03 321.2 Z" fill="#c9545a"/>
<ellipse cx="1034.8" cy="322.18" rx="1.17" ry="1.3" fill="#f6c9a4"/>
<ellipse cx="1045.2" cy="322.18" rx="1.17" ry="1.3" fill="#f6c9a4"/>
<path d="M1038.57 298.45 L1041.43 298.45 L1041.43 302.35 L1038.57 302.35 Z" fill="#f6c9a4"/>
<ellipse cx="1040" cy="294.88" rx="3.38" ry="4.16" fill="#f6c9a4"/>
<path d="M1035.45 296.5 Q1035.32 290 1039.22 290 Q1043.38 290 1042.99 296.5 L1042.47 305.6 Q1039.22 303 1035.97 305.6 Z" fill="#7a3e22"/>
<ellipse cx="1041.4" cy="295.52" rx="2.34" ry="3.25" fill="#f6c9a4"/>
<polygon points="1035,317 1050,313.8 1048,324.5 1038,327.5" fill="#2a8fa0"/>
<polyline points="1036.2,317 1041.2,310 1048.8,313.8" fill="none" stroke="#2a8fa0" stroke-width="1"/>
<path d="M985.73 338.78 L994.27 338.78 L993.36 369.28 L990.37 369.28 L990 352.2 L989.63 369.28 L986.64 369.28 Z" fill="#17386b"/>
<ellipse cx="987.8" cy="369.77" rx="2.44" ry="1.037" fill="#27304a"/>
<ellipse cx="992.44" cy="370.01" rx="2.44" ry="1.037" fill="#27304a"/>
<path d="M985.42 321.7 Q990 318.04 994.58 321.7 L994.27 340 Q990 341.83 985.73 340 L985.42 321.7 L985.42 321.7 Z" fill="#2fa3b5"/>
<path d="M985.42 321.7 L983.9 323.53 L984.21 338.78 L986.22 338.78 Z" fill="#2fa3b5"/>
<path d="M994.58 321.7 L996.1 323.53 L995.79 338.78 L993.78 338.78 Z" fill="#2fa3b5"/>
<ellipse cx="985.12" cy="339.69" rx="1.098" ry="1.22" fill="#f6c9a4"/>
<ellipse cx="994.88" cy="339.69" rx="1.098" ry="1.22" fill="#f6c9a4"/>
<path d="M988.66 317.43 L991.34 317.43 L991.34 321.09 L988.66 321.09 Z" fill="#f6c9a4"/>
<ellipse cx="990" cy="314.07" rx="3.172" ry="3.904" fill="#f6c9a4"/>
<path d="M985.73 315.6 Q985.61 309.5 989.27 309.5 Q993.17 309.5 992.81 315.6 L992.32 324.14 Q989.27 321.7 986.22 324.14 Z" fill="#5a2d1c"/>
<ellipse cx="991.32" cy="314.69" rx="2.196" ry="3.05" fill="#f6c9a4"/>
<line x1="983" y1="322" x2="975" y2="312" stroke="#2fa3b5" stroke-width="2.4" stroke-linecap="round"/>
<line x1="975" y1="312" x2="972" y2="307" stroke="#f6c9a4" stroke-width="2" stroke-linecap="round"/>
<polygon points="984,330 996,330 997,350 983,350" fill="#17386b"/>
<path d="M1078.46 364.56 L1088.54 364.56 L1087.46 400.56 L1083.93 400.56 L1083.5 380.4 L1083.07 400.56 L1079.54 400.56 Z" fill="#5a6270"/>
<ellipse cx="1080.91" cy="401.14" rx="2.88" ry="1.224" fill="#1e78c8"/>
<ellipse cx="1086.38" cy="401.42" rx="2.88" ry="1.224" fill="#1e78c8"/>
<path d="M1078.1 344.4 Q1083.5 340.08 1088.9 344.4 L1088.54 366 Q1083.5 368.16 1078.46 366 L1078.1 344.4 L1078.1 344.4 Z" fill="#1e8fd6"/>
<path d="M1078.1 344.4 L1076.3 346.56 L1076.66 364.56 L1079.04 364.56 Z" fill="#1e8fd6"/>
<path d="M1088.9 344.4 L1090.7 346.56 L1090.34 364.56 L1087.96 364.56 Z" fill="#1e8fd6"/>
<ellipse cx="1077.74" cy="365.64" rx="1.296" ry="1.44" fill="#f6c9a4"/>
<ellipse cx="1089.26" cy="365.64" rx="1.296" ry="1.44" fill="#f6c9a4"/>
<path d="M1081.92 339.36 L1085.08 339.36 L1085.08 343.68 L1081.92 343.68 Z" fill="#f6c9a4"/>
<ellipse cx="1083.5" cy="335.4" rx="3.744" ry="4.608" fill="#f6c9a4"/>
<path d="M1080.33 335.4 Q1080.04 330 1084.36 330 Q1088.83 330 1088.4 335.4 Q1084.36 332.52 1080.33 335.4 Z" fill="#15151a"/>
<polygon points="1079.2,355.2 1084.2,356.4 1083,362.1 1070.4,357.7 1071,355.2 1079.2,358.3" fill="#f6c9a4"/>
<path d="M1135.89 341.04 L1146.11 341.04 L1145.02 377.54 L1141.44 377.54 L1141 357.1 L1140.56 377.54 L1136.98 377.54 Z" fill="#17386b"/>
<ellipse cx="1138.37" cy="378.12" rx="2.92" ry="1.241" fill="#1e78c8"/>
<ellipse cx="1143.92" cy="378.42" rx="2.92" ry="1.241" fill="#1e78c8"/>
<path d="M1135.53 320.6 Q1141 316.22 1146.47 320.6 L1146.11 342.5 Q1141 344.69 1135.89 342.5 L1135.53 320.6 L1135.53 320.6 Z" fill="#e9eef6"/>
<path d="M1135.53 320.6 L1133.7 322.79 L1134.07 341.04 L1136.47 341.04 Z" fill="#e9eef6"/>
<path d="M1146.47 320.6 L1148.3 322.79 L1147.93 341.04 L1145.53 341.04 Z" fill="#e9eef6"/>
<ellipse cx="1135.16" cy="342.13" rx="1.314" ry="1.46" fill="#f6c9a4"/>
<ellipse cx="1146.84" cy="342.13" rx="1.314" ry="1.46" fill="#f6c9a4"/>
<path d="M1139.39 315.49 L1142.61 315.49 L1142.61 319.87 L1139.39 319.87 Z" fill="#f6c9a4"/>
<ellipse cx="1141" cy="311.48" rx="3.796" ry="4.672" fill="#f6c9a4"/>
<path d="M1137.79 311.48 Q1137.5 306 1141.88 306 Q1146.4 306 1145.96 311.48 Q1141.88 308.56 1137.79 311.48 Z" fill="#15151a"/>
<polygon points="1133.8,331.9 1137,332.6 1135.7,335.1 1119.4,329.4 1120,327.5" fill="#f6c9a4"/>
<ellipse cx="1121.29" cy="326.03" rx="2.2" ry="2" fill="#5cb531"/>
<polygon points="1283.8,404 1397.5,470 1330,508 1222,442" fill="#f8f8fb"/>
<polygon points="1283.8,305 1283.8,404 1165,472 1165,372" fill="#5a6c79"/>
<polygon points="1273.8,299.5 1283.8,305 1165,373 1155,367.5" fill="#a3afb7"/>
<polygon points="1283.8,305 1397.5,371.2 1397.5,470 1283.8,404" fill="#607480"/>
<polygon points="1293.8,316.2 1375,363.8 1375,442.5 1293.8,413.8" fill="#b7c2ca"/>
<polygon points="1305,327.5 1326.2,340 1326.2,402.5 1305,390" fill="#ffffff"/>
<polygon points="1335,345 1367.5,363.8 1367.5,427.5 1335,408.8" fill="#ffffff"/>
<polygon points="1297.5,320 1304.5,324.2 1304.5,416.2 1297.5,412.5" fill="#dfe4e8"/>
<polygon points="1327,340.5 1333.8,344.5 1333.8,425.5 1327,421.2" fill="#cfd6dc"/>
<polygon points="1300.8,405.8 1352.3,432.8 1352.3,438.4 1300.8,418.4" fill="#eef1f3"/>
<polygon points="1301.4,406.4 1305.2,408.4 1305.2,420.4 1301.4,418.4" fill="#b4bfc7"/>
<polygon points="1308.7,410.2 1312.5,412.3 1312.5,423.2 1308.7,421.2" fill="#b4bfc7"/>
<polygon points="1316,414.1 1319.7,416.1 1319.7,426 1316,424" fill="#b4bfc7"/>
<polygon points="1323.2,417.9 1327,419.9 1327,428.8 1323.2,426.8" fill="#b4bfc7"/>
<polygon points="1330.5,421.7 1334.3,423.8 1334.3,431.7 1330.5,429.6" fill="#b4bfc7"/>
<polygon points="1337.8,425.6 1341.6,427.6 1341.6,434.5 1337.8,432.5" fill="#b4bfc7"/>
<polygon points="1345.1,429.4 1348.9,431.4 1348.9,437.3 1345.1,435.3" fill="#b4bfc7"/>
<polygon points="1234.4,368.8 1280.8,346.9 1287.8,350.6 1287.8,361.9 1243.2,387.7 1234.4,382.9" fill="#f4f5f7"/>
<polygon points="1243.2,373.9 1287.8,350.6 1287.8,361.9 1243.2,387.7" fill="#e4e7ea"/>
<polygon points="1245,376.4 1285.9,354.4 1285.9,360.7 1245,383.9" fill="#fafbfc"/>
<polygon points="1244.4,372.6 1252.6,377 1244.4,382" fill="#8cc63f"/>
<polygon points="1254.8,372 1256.4,365.7 1257.9,371.1" fill="#8fd3ec"/>
<polygon points="1259.2,369.7 1260.8,363.4 1262.3,368.8" fill="#8fd3ec"/>
<polygon points="1268.9,359.4 1275.8,356.3 1277.1,363.2 1269.5,366.3" fill="#5fb8e0"/>
<polygon points="1276.5,355 1282.1,352.5 1282.7,360.1 1277.1,362.6" fill="#7fc241"/>
<polygon points="1200.5,386.4 1223.7,375.1 1230.6,379.5 1206.8,392.7" fill="#f4f5f7"/>
<rect x="1204.52" y="377.9" width="3.2" height="6.5" rx="1" fill="#8fd3ec"/>
<rect x="1210.17" y="378.53" width="3.2" height="6.5" rx="1" fill="#8cc63f"/>
<rect x="1214.57" y="376.01" width="3.2" height="6.5" rx="1" fill="#8fd3ec"/>
<rect x="1218.71" y="374.38" width="3.2" height="6.5" rx="1" fill="#8cc63f"/>
<path d="M1224.1 429.6 L1233.9 429.6 L1232.85 464.6 L1229.42 464.6 L1229 445 L1228.58 464.6 L1225.15 464.6 Z" fill="#f6f3f3"/>
<ellipse cx="1226.48" cy="465.16" rx="2.8" ry="1.19" fill="#27304a"/>
<ellipse cx="1231.8" cy="465.44" rx="2.8" ry="1.19" fill="#27304a"/>
<path d="M1223.75 410 Q1229 405.8 1234.25 410 L1233.9 431 Q1229 433.1 1224.1 431 L1223.75 410 L1223.75 410 Z" fill="#f6f3f3"/>
<path d="M1223.75 410 L1222 412.1 L1222.35 429.6 L1224.66 429.6 Z" fill="#f6f3f3"/>
<path d="M1234.25 410 L1236 412.1 L1235.65 429.6 L1233.34 429.6 Z" fill="#f6f3f3"/>
<ellipse cx="1223.4" cy="430.65" rx="1.26" ry="1.4" fill="#f6c9a4"/>
<ellipse cx="1234.6" cy="430.65" rx="1.26" ry="1.4" fill="#f6c9a4"/>
<path d="M1227.46 405.1 L1230.54 405.1 L1230.54 409.3 L1227.46 409.3 Z" fill="#f6c9a4"/>
<ellipse cx="1229" cy="401.25" rx="3.64" ry="4.48" fill="#f6c9a4"/>
<path d="M1224.1 403 Q1223.96 396 1228.16 396 Q1232.64 396 1232.22 403 L1231.66 412.8 Q1228.16 410 1224.66 412.8 Z" fill="#17171c"/>
<ellipse cx="1230.51" cy="401.95" rx="2.52" ry="3.5" fill="#f6c9a4"/>
<polygon points="1231.2,453 1303,411.2 1303,435 1255,466.2 1231.2,456.2" fill="#f0f0f3"/>
<polygon points="1225.6,430.4 1284.6,397.1 1303.7,407.5 1231.2,449.5" fill="#5cb531"/>
<polygon points="1231.2,449.5 1303.7,407.5 1303.7,410.5 1231.2,452.7" fill="#3f8f25"/>
<polygon points="1230.6,425.4 1248.8,415.9 1253.8,418.8 1235.6,429.1" fill="#f3ecec"/>
<ellipse cx="1236.26" cy="422.21" rx="2.2" ry="2.2" fill="#22252b"/>
<polygon points="1240.7,417.8 1246.9,414.3 1250.1,417.8 1243.2,421" fill="#86c440"/>
<polygon points="1322.5,448 1345,435 1355,440.5 1355,446.2 1332.5,458.8" fill="#fbfbfc"/>
<polygon points="1330,458 1352.5,446.2 1352.5,470 1330,478.8" fill="#6c7e8b"/>
<ellipse cx="1336.25" cy="447.5" rx="2.6" ry="2.2" fill="#1f2126"/>
<ellipse cx="1347" cy="439.5" rx="2.6" ry="2.2" fill="#1f2126"/>
<ellipse cx="1348" cy="446.25" rx="2.6" ry="2.2" fill="#1f2126"/>
<ellipse cx="1347" cy="454.5" rx="2.6" ry="2.2" fill="#1f2126"/>
<rect x="1346.25" y="432.5" width="2.4" height="7" fill="#69b73c"/>
<path d="M1277.12 448.5 L1279.6 448.5 L1279.3 474 L1277.5 474 Z" fill="#f6c9a4"/>
<path d="M1281.1 448.5 L1283.88 448.5 L1283.2 474 L1281.4 474 Z" fill="#f6c9a4"/>
<path d="M1275.25 434.25 L1285.75 434.25 Q1288 444 1286.12 453 L1274.88 453 Z" fill="#17648f"/>
<ellipse cx="1277.8" cy="474.6" rx="3" ry="1.275" fill="#27304a"/>
<ellipse cx="1283.5" cy="474.9" rx="3" ry="1.275" fill="#27304a"/>
<path d="M1274.88 415.5 Q1280.5 411 1286.12 415.5 L1285.75 438 Q1280.5 440.25 1275.25 438 L1274.88 415.5 L1274.88 415.5 Z" fill="#17648f"/>
<path d="M1274.88 415.5 L1273 417.75 L1273.38 436.5 L1275.85 436.5 Z" fill="#17648f"/>
<path d="M1286.12 415.5 L1288 417.75 L1287.62 436.5 L1285.15 436.5 Z" fill="#17648f"/>
<ellipse cx="1274.5" cy="437.62" rx="1.35" ry="1.5" fill="#f6c9a4"/>
<ellipse cx="1286.5" cy="437.62" rx="1.35" ry="1.5" fill="#f6c9a4"/>
<path d="M1278.85 410.25 L1282.15 410.25 L1282.15 414.75 L1278.85 414.75 Z" fill="#f6c9a4"/>
<ellipse cx="1280.5" cy="406.12" rx="3.9" ry="4.8" fill="#f6c9a4"/>
<path d="M1277.05 408 Q1276.9 400.5 1281.4 400.5 Q1286.2 400.5 1285.75 408 L1285.15 418.5 Q1281.4 415.5 1277.65 418.5 Z" fill="#17171c"/>
<ellipse cx="1278.88" cy="406.88" rx="2.7" ry="3.75" fill="#f6c9a4"/>
<rect x="1269.8" y="398.6" width="19.6" height="19.6" rx="1.2" fill="none" stroke="#f5262c" stroke-width="1.9"/>
<polygon points="765,385 878,319.5 878,418.5 765,484" fill="#f1cfa3"/>
<polygon points="878,319.5 1007.5,394 1007.5,493 878,418.5" fill="#efcb9d"/>
<polygon points="753.8,377.5 765,385 765,484 753.8,476.5" fill="#f8dab3"/>
<polygon points="1007.5,393.8 1017.5,387.5 1017.5,487.5 1007.5,493.8" fill="#f8dab3"/>
<polygon points="753.8,377.5 875,305 1017.5,387.5 1007.5,394 878,319.5 765,385" fill="#fee8cf"/>
<polygon points="896.2,350 952.5,381.2 952.5,480 896.2,448.8" fill="#f1cfa3"/>
<polygon points="952.5,381.2 968.8,371.2 968.8,471.2 952.5,480" fill="#f8dab3"/>
<polygon points="896.2,350 912.5,340.6 968.8,371.2 952.5,381.2" fill="#fee8cf"/>
<polygon points="897,356.5 952.5,384.5 952.5,468 897,438" fill="#fbe6c8"/>
<polygon points="900,359 950,385 950,463.5 900,435" fill="#dce8fc"/>
<line x1="924.5" y1="371.75" x2="924.5" y2="449.25" stroke="#3d4a6a" stroke-width="0.9"/>
<line x1="900" y1="385" x2="950" y2="411.25" stroke="#3d4a6a" stroke-width="0.9"/>
<line x1="900" y1="417" x2="950" y2="444" stroke="#3d4a6a" stroke-width="0.9"/>
<polyline points="900,359 950,385 950,463.5 900,435 900,359" fill="none" stroke="#3d4a6a" stroke-width="0.7"/>
<polygon points="773.8,398.8 836.2,368.2 838.8,370.8 776.2,401.8" fill="#fbe7ca"/>
<polygon points="776.2,401.8 838.8,370.8 838.8,372.8 776.2,403.8" fill="#e6c18f"/>
<path d="M780 395.75 l0 -5.5 l8 -4.6 l7.5 3 l0 5.5 l-8 4.8 z" fill="#f5cf1a" stroke="#f5cf1a" stroke-width="3" stroke-linejoin="round"/>
<path d="M780 391.75 l8 -4.6 l7.5 3" fill="none" stroke="#fff" stroke-opacity=".25" stroke-width="1"/>
<path d="M798.25 386.25 l0 -5.5 l8 -4.6 l7.5 3 l0 5.5 l-8 4.8 z" fill="#f3e3c3" stroke="#f3e3c3" stroke-width="3" stroke-linejoin="round"/>
<path d="M798.25 382.25 l8 -4.6 l7.5 3" fill="none" stroke="#fff" stroke-opacity=".25" stroke-width="1"/>
<path d="M816.5 376.75 l0 -5.5 l8 -4.6 l7.5 3 l0 5.5 l-8 4.8 z" fill="#7fcbe8" stroke="#7fcbe8" stroke-width="3" stroke-linejoin="round"/>
<path d="M816.5 372.75 l8 -4.6 l7.5 3" fill="none" stroke="#fff" stroke-opacity=".25" stroke-width="1"/>
<polygon points="773.8,416.2 836.2,385.8 838.8,388.2 776.2,419.2" fill="#fbe7ca"/>
<polygon points="776.2,419.2 838.8,388.2 838.8,390.2 776.2,421.2" fill="#e6c18f"/>
<path d="M780 413.25 l0 -5.5 l8 -4.6 l7.5 3 l0 5.5 l-8 4.8 z" fill="#1f4a7c" stroke="#1f4a7c" stroke-width="3" stroke-linejoin="round"/>
<path d="M780 409.25 l8 -4.6 l7.5 3" fill="none" stroke="#fff" stroke-opacity=".25" stroke-width="1"/>
<path d="M798.25 403.75 l0 -5.5 l8 -4.6 l7.5 3 l0 5.5 l-8 4.8 z" fill="#d41f26" stroke="#d41f26" stroke-width="3" stroke-linejoin="round"/>
<path d="M798.25 399.75 l8 -4.6 l7.5 3" fill="none" stroke="#fff" stroke-opacity=".25" stroke-width="1"/>
<path d="M816.5 394.25 l0 -5.5 l8 -4.6 l7.5 3 l0 5.5 l-8 4.8 z" fill="#f5cf1a" stroke="#f5cf1a" stroke-width="3" stroke-linejoin="round"/>
<path d="M816.5 390.25 l8 -4.6 l7.5 3" fill="none" stroke="#fff" stroke-opacity=".25" stroke-width="1"/>
<polygon points="773.8,433.8 836.2,403.2 838.8,405.8 776.2,436.8" fill="#fbe7ca"/>
<polygon points="776.2,436.8 838.8,405.8 838.8,407.8 776.2,438.8" fill="#e6c18f"/>
<path d="M780 430.75 l0 -5.5 l8 -4.6 l7.5 3 l0 5.5 l-8 4.8 z" fill="#f5cf1a" stroke="#f5cf1a" stroke-width="3" stroke-linejoin="round"/>
<path d="M780 426.75 l8 -4.6 l7.5 3" fill="none" stroke="#fff" stroke-opacity=".25" stroke-width="1"/>
<path d="M798.25 421.25 l0 -5.5 l8 -4.6 l7.5 3 l0 5.5 l-8 4.8 z" fill="#f3e3c3" stroke="#f3e3c3" stroke-width="3" stroke-linejoin="round"/>
<path d="M798.25 417.25 l8 -4.6 l7.5 3" fill="none" stroke="#fff" stroke-opacity=".25" stroke-width="1"/>
<path d="M816.5 411.75 l0 -5.5 l8 -4.6 l7.5 3 l0 5.5 l-8 4.8 z" fill="#7fcbe8" stroke="#7fcbe8" stroke-width="3" stroke-linejoin="round"/>
<path d="M816.5 407.75 l8 -4.6 l7.5 3" fill="none" stroke="#fff" stroke-opacity=".25" stroke-width="1"/>
<polygon points="773.8,451.2 836.2,420.8 838.8,423.2 776.2,454.2" fill="#fbe7ca"/>
<polygon points="776.2,454.2 838.8,423.2 838.8,425.2 776.2,456.2" fill="#e6c18f"/>
<path d="M780 448.25 l0 -5.5 l8 -4.6 l7.5 3 l0 5.5 l-8 4.8 z" fill="#1f4a7c" stroke="#1f4a7c" stroke-width="3" stroke-linejoin="round"/>
<path d="M780 444.25 l8 -4.6 l7.5 3" fill="none" stroke="#fff" stroke-opacity=".25" stroke-width="1"/>
<path d="M798.25 438.75 l0 -5.5 l8 -4.6 l7.5 3 l0 5.5 l-8 4.8 z" fill="#d41f26" stroke="#d41f26" stroke-width="3" stroke-linejoin="round"/>
<path d="M798.25 434.75 l8 -4.6 l7.5 3" fill="none" stroke="#fff" stroke-opacity=".25" stroke-width="1"/>
<path d="M816.5 429.25 l0 -5.5 l8 -4.6 l7.5 3 l0 5.5 l-8 4.8 z" fill="#f5cf1a" stroke="#f5cf1a" stroke-width="3" stroke-linejoin="round"/>
<path d="M816.5 425.25 l8 -4.6 l7.5 3" fill="none" stroke="#fff" stroke-opacity=".25" stroke-width="1"/>
<path d="M877.2 378.75 l5 -2.5 l3.5 6 l2.5 42.8 l-12 6.5 l-2.5 -42.8 z" fill="#c98a3c"/>
<path d="M885.7 382.25 l1 38.8" stroke="#000" stroke-opacity=".12" stroke-width=".6" fill="none"/>
<path d="M872 381.75 l5 -2.5 l3.5 6 l2.5 44 l-12 6.5 l-2.5 -44 z" fill="#f2c21c"/>
<path d="M880.5 385.25 l1 40" stroke="#000" stroke-opacity=".12" stroke-width=".6" fill="none"/>
<path d="M866.8 384.75 l5 -2.5 l3.5 6 l2.5 45.2 l-12 6.5 l-2.5 -45.2 z" fill="#e5532d"/>
<path d="M875.3 388.25 l1 41.2" stroke="#000" stroke-opacity=".12" stroke-width=".6" fill="none"/>
<path d="M861.6 387.75 l5 -2.5 l3.5 6 l2.5 46.4 l-12 6.5 l-2.5 -46.4 z" fill="#f2b81c"/>
<path d="M870.1 391.25 l1 42.4" stroke="#000" stroke-opacity=".12" stroke-width=".6" fill="none"/>
<path d="M856.4 390.75 l5 -2.5 l3.5 6 l2.5 47.6 l-12 6.5 l-2.5 -47.6 z" fill="#d42a20"/>
<path d="M864.9 394.25 l1 43.6" stroke="#000" stroke-opacity=".12" stroke-width=".6" fill="none"/>
<path d="M851.2 393.75 l5 -2.5 l3.5 6 l2.5 48.8 l-12 6.5 l-2.5 -48.8 z" fill="#e9d2a8"/>
<path d="M859.7 397.25 l1 44.8" stroke="#000" stroke-opacity=".12" stroke-width=".6" fill="none"/>
<path d="M846 396.75 l6 -3 l4 6 l3.5 43 l-15.5 8.5 l-1 -46 z" fill="#17345c"/>
<path d="M854.5 400.25 l1 46" stroke="#000" stroke-opacity=".12" stroke-width=".6" fill="none"/>
<line x1="843" y1="390.75" x2="843" y2="448.75" stroke="#5a2b14" stroke-width="3.4"/>
<line x1="843" y1="392.75" x2="887.4" y2="366.998" stroke="#5a2b14" stroke-width="2.2"/>
<line x1="887.4" y1="364.998" x2="887.4" y2="426.998" stroke="#5a2b14" stroke-width="3.4"/>
<line x1="838" y1="444.75" x2="855" y2="454.75" stroke="#5a2b14" stroke-width="3.8"/>
<line x1="882.4" y1="421.998" x2="897.4" y2="430.998" stroke="#5a2b14" stroke-width="3.8"/>
<polygon points="857.5,476.2 890,458.8 921.2,473.8 921.2,480 890,497.5 857.5,482.5" fill="#fde6c6"/>
<polygon points="865,485 890,497.5 890,511.2 865,498.8" fill="#3e1b0c"/>
<polygon points="890,497.5 913.8,484.2 913.8,497.5 890,511.2" fill="#5a2a14"/>
<polygon points="870,467.5 881.2,461.5 891.2,467 891.2,473 880,479.5 870,473.5" fill="#2d5f9a"/>
<polygon points="883.8,458.8 895,452.8 905,458.2 905,464.2 893.8,470.8 883.8,464.8" fill="#1f3f6e"/>
<polygon points="895,470 906.2,464 916.2,469.5 916.2,475.5 905,482 895,476" fill="#1f3050"/>
<polygon points="880,475 891.2,469 901.2,474.5 901.2,480.5 890,487 880,481" fill="#2f7fa8"/>
<polygon points="865,477.5 876.2,471.5 886.2,477 886.2,483 875,489.5 865,483.5" fill="#2a5a92"/>
<path d="M823.72 478.49 L828.37 483.14 L812.09 490.12 L810.35 487.21 Z" fill="#f3c3a0"/>
<path d="M807.44 486.63 Q810.35 483.72 812.67 485.47 L810.93 490.12 L807.44 494.77 Z" fill="#1f3f78"/>
<path d="M828.37 499.42 L832.44 499.42 L830.12 509.88 L827.79 508.72 Z" fill="#f3c3a0"/>
<path d="M825.47 505.23 L827.79 506.4 L831.86 512.79 L828.95 514.3 Z" fill="#1f3f78"/>
<path d="M824.88 448.26 Q829.53 445.35 835.35 447.09 L836.51 464.53 Q837.67 480.81 829.53 486.63 Q819.07 480.81 823.72 463.37 Z" fill="#1f4f8a"/>
<path d="M823.14 449.42 L826.05 450 L827.21 459.88 L836.51 463.95 L835.93 466.86 Z" fill="#f3c3a0"/>
<path d="M823.14 449.42 L826.98 460.47 L824.88 462.21 Z" fill="#f3c3a0"/>
<path d="M833.6 447.09 L841.16 442.44 Q844.65 443.6 844.65 459.88 L848.72 493.6 L838.84 500.58 L827.79 505.23 Q830.12 471.51 830.7 455.23 Z" fill="#c4100e"/>
<path d="M833.6 447.09 L836.51 445.93 L834.77 473.84 L830.12 499.42 Z" fill="#a20c0a"/>
<line x1="834.77" y1="444.19" x2="842.91" y2="441.28" stroke="#5a2b14" stroke-width="1.4"/>
<ellipse cx="828.95" cy="440.7" rx="3.8" ry="4.8" fill="#f3c3a0"/>
<path d="M824.3 442.44 Q823.14 434.3 828.95 433.14 Q833.02 433.72 833.02 437.79 L829.53 437.21 Q826.98 439.53 827.21 444.19 Q824.88 446.51 824.3 442.44 Z" fill="#7a3a20"/>
<path d="M979.4 436.5 l5 -2.5 l3.5 6 l2.5 41.6 l-12 6.5 l-2.5 -41.6 z" fill="#f2c21c"/>
<path d="M987.9 440 l1 37.6" stroke="#000" stroke-opacity=".12" stroke-width=".6" fill="none"/>
<path d="M974.2 439.5 l5 -2.5 l3.5 6 l2.5 42.8 l-12 6.5 l-2.5 -42.8 z" fill="#f2b81c"/>
<path d="M982.7 443 l1 38.8" stroke="#000" stroke-opacity=".12" stroke-width=".6" fill="none"/>
<path d="M969 442.5 l5 -2.5 l3.5 6 l2.5 44 l-12 6.5 l-2.5 -44 z" fill="#e5532d"/>
<path d="M977.5 446 l1 40" stroke="#000" stroke-opacity=".12" stroke-width=".6" fill="none"/>
<path d="M963.8 445.5 l5 -2.5 l3.5 6 l2.5 45.2 l-12 6.5 l-2.5 -45.2 z" fill="#17345c"/>
<path d="M972.3 449 l1 41.2" stroke="#000" stroke-opacity=".12" stroke-width=".6" fill="none"/>
<path d="M958.6 448.5 l5 -2.5 l3.5 6 l2.5 46.4 l-12 6.5 l-2.5 -46.4 z" fill="#c9a878"/>
<path d="M967.1 452 l1 42.4" stroke="#000" stroke-opacity=".12" stroke-width=".6" fill="none"/>
<path d="M953.4 451.5 l5 -2.5 l3.5 6 l2.5 47.6 l-12 6.5 l-2.5 -47.6 z" fill="#e0c49a"/>
<path d="M961.9 455 l1 43.6" stroke="#000" stroke-opacity=".12" stroke-width=".6" fill="none"/>
<path d="M948.2 454.5 l5 -2.5 l3.5 6 l2.5 48.8 l-12 6.5 l-2.5 -48.8 z" fill="#d8231f"/>
<path d="M956.7 458 l1 44.8" stroke="#000" stroke-opacity=".12" stroke-width=".6" fill="none"/>
<path d="M943 457.5 l6 -3 l4 6 l3.5 43 l-15.5 8.5 l-1 -46 z" fill="#d8231f"/>
<path d="M951.5 461 l1 46" stroke="#000" stroke-opacity=".12" stroke-width=".6" fill="none"/>
<line x1="940" y1="451.5" x2="940" y2="509.5" stroke="#5a2b14" stroke-width="3.4"/>
<line x1="940" y1="453.5" x2="989.6" y2="424.732" stroke="#5a2b14" stroke-width="2.2"/>
<line x1="989.6" y1="422.732" x2="989.6" y2="484.732" stroke="#5a2b14" stroke-width="3.4"/>
<line x1="935" y1="505.5" x2="952" y2="515.5" stroke="#5a2b14" stroke-width="3.8"/>
<line x1="984.6" y1="479.732" x2="999.6" y2="488.732" stroke="#5a2b14" stroke-width="3.8"/>
<path d="M966.25 442.5 l5 -2 l4 20 l-6 4 z" fill="#3f9f8f"/>
<path d="M990.12 569.77 L996.51 569.77 L994.77 589.53 L990.93 588.95 Z" fill="#f3c3a0"/>
<path d="M995.93 569.77 L1001.74 569.77 L1000.23 587.21 L996.74 586.98 Z" fill="#eab390"/>
<path d="M986.63 590.12 L990.93 588.6 L995.35 591.28 L994.77 593.6 Z" fill="#2a2a38"/>
<path d="M994.77 587.21 L1000.58 586.28 L1001.16 589.3 L996.51 588.6 Z" fill="#2a2a38"/>
<path d="M988.95 534.88 Q986.98 546.51 987.44 560.47 L990.12 562.21 L992.09 536.05 Z" fill="#f3c3a0"/>
<path d="M990.12 534.3 L1001.16 534.88 L1002.09 548.84 L991.28 549.42 Z" fill="#fbfbfd"/>
<path d="M1001.16 538.37 L1003.72 539.53 L1004.42 550 L1002.33 550 Z" fill="#eab390"/>
<path d="M991.63 548.26 L1002.09 547.09 Q1005.81 558.14 1005.58 568.02 Q996.51 572.67 986.98 570.35 Z" fill="#6b4fbb"/>
<path d="M991.63 548.26 L1002.09 546.86 L1002.33 548.6 L991.86 550.23 Z" fill="#b9c6f2"/>
<ellipse cx="994.77" cy="523.26" rx="3.6" ry="4.6" fill="#f3c3a0"/>
<path d="M991.63 520.35 Q995.35 513.95 1001.16 518.6 Q1005.81 530.23 1003.72 538.37 Q998.84 540.7 995.93 537.21 Q994.77 527.91 992.09 523.84 Z" fill="#b9786a"/>
<polygon points="1159,479 1276,547 1230,574 1097,514" fill="#fafafd"/>
<polygon points="1017.5,447.5 1159,365 1159,479 1097.5,514.5 1020,540 1017.5,500" fill="#36aa40"/>
<polygon points="1159,379 1206.8,405.3 1221.2,460.1 1269,502.2 1275.9,505.3 1275.9,546.8 1159,479" fill="#1f8b40"/>
<polygon points="1159,365 1215.5,398.4 1231.9,453.8 1277.8,495.9 1269,502.2 1221.2,460.1 1206.8,405.3 1159,379" fill="#36aa40"/>
<defs><linearGradient id="lg" x1="0.4" y1="1" x2="0.6" y2="0"><stop offset="0" stop-color="#f6ffd6" stop-opacity="0.95"/><stop offset="1" stop-color="#dff7b0" stop-opacity="0.05"/></linearGradient></defs>
<path d="M1083.5 460.5 L1100 452.5 L1103 432.5 L1076.5 446.5 Z" fill="url(#lg)"/>
<path d="M1083 460.5 Q1084.5 468.5 1092.5 467.5 Q1100.5 464.5 1100.5 452.5 Q1092.5 458.5 1083 460.5 Z" fill="#f7d59c"/>
<path d="M1129.5 433.5 L1146 425.5 L1149 405.5 L1122.5 419.5 Z" fill="url(#lg)"/>
<path d="M1129 433.5 Q1130.5 441.5 1138.5 440.5 Q1146.5 437.5 1146.5 425.5 Q1138.5 431.5 1129 433.5 Z" fill="#f7d59c"/>
<polygon points="1162.8,397.1 1169.7,394.6 1211.2,419.1 1211.2,446.7 1204.9,442.9 1171.6,423.5" fill="#e8500e"/>
<polygon points="1164.7,399.2 1182.9,410 1189.8,430.4 1172.2,421" fill="#7cc030"/>
<polygon points="1185.4,411.5 1203.6,422.2 1210.5,443.6 1191.7,431.9" fill="#fbb810"/>
<path d="M1242.05 506.3 L1250.45 506.3 L1249.55 536.3 L1246.61 536.3 L1246.25 519.5 L1245.89 536.3 L1242.95 536.3 Z" fill="#3a3340"/>
<ellipse cx="1244.09" cy="536.78" rx="2.4" ry="1.02" fill="#27304a"/>
<ellipse cx="1248.65" cy="537.02" rx="2.4" ry="1.02" fill="#27304a"/>
<path d="M1241.75 489.5 Q1246.25 485.9 1250.75 489.5 L1250.45 507.5 Q1246.25 509.3 1242.05 507.5 L1241.75 489.5 L1241.75 489.5 Z" fill="#ffffff"/>
<path d="M1241.75 489.5 L1240.25 491.3 L1240.55 506.3 L1242.53 506.3 Z" fill="#ffffff"/>
<path d="M1250.75 489.5 L1252.25 491.3 L1251.95 506.3 L1249.97 506.3 Z" fill="#ffffff"/>
<ellipse cx="1241.45" cy="507.2" rx="1.08" ry="1.2" fill="#f6c9a4"/>
<ellipse cx="1251.05" cy="507.2" rx="1.08" ry="1.2" fill="#f6c9a4"/>
<path d="M1244.93 485.3 L1247.57 485.3 L1247.57 488.9 L1244.93 488.9 Z" fill="#f6c9a4"/>
<ellipse cx="1246.25" cy="482" rx="3.12" ry="3.84" fill="#f6c9a4"/>
<path d="M1242.05 483.5 Q1241.93 477.5 1245.53 477.5 Q1249.37 477.5 1249.01 483.5 L1248.53 491.9 Q1245.53 489.5 1242.53 491.9 Z" fill="#5a2a1c"/>
<ellipse cx="1247.55" cy="482.6" rx="2.16" ry="3" fill="#f6c9a4"/>
<polygon points="1242,495 1250.5,495 1249.5,515 1243,515" fill="#3a3340"/>
<polygon points="1132.5,468.8 1152.5,457.5 1260,518.8 1237.5,531.2" fill="#fbb910"/>
<polygon points="1237.5,531.2 1260,518.8 1260,523.8 1237.5,536.2" fill="#e9a406"/>
<polygon points="1132.5,470 1237.5,532.5 1237.5,567.5 1132.5,506.2" fill="#c24a00"/>
<polygon points="1237.5,536.2 1260,523.8 1260,552.5 1237.5,567.5" fill="#e05a06"/>
<polygon points="1148.8,478.8 1168.8,467.5 1198.8,483.8 1178.8,496.2" fill="#f2f0ee"/>
<polygon points="1148.8,478.8 1178.8,496.2 1175,511.2 1146.2,495" fill="#f6e1cf"/>
<polygon points="1160,457.5 1171.2,452 1197.5,467.5 1197.5,481.2 1168.8,467.5" fill="#bfe5d8" opacity="0.7"/>
<ellipse cx="1158.75" cy="473.75" rx="2.6" ry="2" fill="#8a5a4a"/>
<ellipse cx="1168.75" cy="470" rx="2.6" ry="2" fill="#8a5a4a"/>
<ellipse cx="1167.5" cy="480" rx="2.6" ry="2" fill="#8a5a4a"/>
<ellipse cx="1178.75" cy="476.25" rx="2.6" ry="2" fill="#8a5a4a"/>
<ellipse cx="1177.5" cy="487" rx="2.6" ry="2" fill="#8a5a4a"/>
<ellipse cx="1187.5" cy="482.5" rx="2.6" ry="2" fill="#8a5a4a"/>
<rect x="1150.8" y="487.25" width="3.4" height="7.5" rx="1" fill="#9fe0c8"/>
<rect x="1157.05" y="491" width="3.4" height="7.5" rx="1" fill="#f6c08a"/>
<rect x="1163.3" y="494.75" width="3.4" height="7.5" rx="1" fill="#9fe0c8"/>
<rect x="1169.55" y="498.5" width="3.4" height="7.5" rx="1" fill="#f6c08a"/>
<ellipse cx="1138.75" cy="467.5" rx="2" ry="2.4" fill="#e8571c"/>
<ellipse cx="1143.75" cy="465" rx="2" ry="2.4" fill="#3fa83c"/>
<ellipse cx="1148.75" cy="462.5" rx="2" ry="2.4" fill="#e8571c"/>
<ellipse cx="1145" cy="470" rx="2" ry="2.4" fill="#e8571c"/>
<ellipse cx="1151.25" cy="466.25" rx="2" ry="2.4" fill="#3fa83c"/>
<polygon points="1191.2,498.8 1201.2,493 1213.8,500.5 1203.8,507" fill="#55b030"/>
<ellipse cx="1198" cy="499.5" rx="3" ry="2.2" fill="#ffffff"/>
<ellipse cx="1205.5" cy="501.25" rx="3" ry="2.2" fill="#ffffff"/>
<ellipse cx="1198" cy="499.25" rx="1.6" ry="1.1" fill="#6b2a1c"/>
<ellipse cx="1232.5" cy="507.5" rx="3" ry="2.2" fill="#ffffff"/>
<ellipse cx="1238" cy="510.5" rx="2.6" ry="1.8" fill="#ffffff"/>
<path d="M1178.57 515.27 L1188.93 515.27 L1187.82 552.27 L1184.19 552.27 L1183.75 531.55 L1183.31 552.27 L1179.68 552.27 Z" fill="#a81c24"/>
<ellipse cx="1181.09" cy="552.86" rx="2.96" ry="1.258" fill="#27304a"/>
<ellipse cx="1186.71" cy="553.16" rx="2.96" ry="1.258" fill="#27304a"/>
<path d="M1178.2 494.55 Q1183.75 490.11 1189.3 494.55 L1188.93 516.75 Q1183.75 518.97 1178.57 516.75 L1178.2 494.55 L1178.2 494.55 Z" fill="#ee4f5f"/>
<path d="M1178.2 494.55 L1176.35 496.77 L1176.72 515.27 L1179.16 515.27 Z" fill="#ee4f5f"/>
<path d="M1189.3 494.55 L1191.15 496.77 L1190.78 515.27 L1188.34 515.27 Z" fill="#ee4f5f"/>
<ellipse cx="1177.83" cy="516.38" rx="1.332" ry="1.48" fill="#f6c9a4"/>
<ellipse cx="1189.67" cy="516.38" rx="1.332" ry="1.48" fill="#f6c9a4"/>
<path d="M1182.12 489.37 L1185.38 489.37 L1185.38 493.81 L1182.12 493.81 Z" fill="#f6c9a4"/>
<ellipse cx="1183.75" cy="485.3" rx="3.848" ry="4.736" fill="#f6c9a4"/>
<path d="M1178.57 487.15 Q1178.42 479.75 1182.86 479.75 Q1187.6 479.75 1187.15 487.15 L1186.56 497.51 Q1182.86 494.55 1179.16 497.51 Z" fill="#6a3020"/>
<ellipse cx="1185.35" cy="486.04" rx="2.664" ry="3.7" fill="#f6c9a4"/>
<polygon points="1268.8,499 1323.8,470 1330,480.5 1276.2,508" fill="#fafafb"/>
<polygon points="1276.2,504.5 1330,480 1330,521.2 1276.2,548" fill="#ebebed"/>
<polygon points="1013.8,450 1075,483.8 1093.8,539.5 1146.2,590 1146.2,627.5 1013.8,550" fill="#f0f0f1"/>
<polygon points="1013.8,450 1020,446.5 1086.2,479.5 1075,483.8" fill="#fbfbfc"/>
<polygon points="1075,483.8 1086.2,479.5 1106.2,535.5 1093.8,539.5" fill="#fdfdfd"/>
<polygon points="1093.8,539.5 1106.2,535.5 1155.5,585 1146.2,590" fill="#fbfbfc"/>
<polygon points="1146.2,590 1155.5,585 1155.5,622.5 1146.2,627.5" fill="#e6e6e8"/>
<polygon points="1025.8,479.5 1060.5,498 1060.5,545.8 1025.8,528" fill="#2b303b"/>
<polygon points="1027.5,482.5 1058.5,499 1058.5,542.5 1027.5,526" fill="#dbe6fb"/>
<path d="M1096.47 519.07 Q1100.93 510 1112.79 511.4 L1114.88 521.86 L1123.26 526.74 L1120.46 530.93 L1107.91 537.21 L1100.93 535.81 Z" fill="#e4eef2"/>
<path d="M1112.79 512.79 L1115.16 521.86 L1121.86 528.14 L1119.77 530.93 Z" fill="#d3e0e6"/>
<ellipse cx="1106.93" cy="507.63" rx="3.3" ry="4.3" fill="#f3c3a0"/>
<path d="M1102.33 507.21 Q1100.93 499.53 1107.21 499.53 Q1111.4 500.93 1110.42 505.12 L1107.21 504 Q1104.42 505.12 1102.33 507.21 Z" fill="#7a2e1c"/>
<polygon points="1105.8,537.2 1129.5,524 1163.7,541.4 1133.7,561.6" fill="#fbb910"/>
<polygon points="1133.7,561.6 1163.7,541.4 1163.7,543.9 1133.7,564.1" fill="#e9a406"/>
<polygon points="1105.8,537.2 1133.7,561.6 1133.7,564.1 1105.8,539.7" fill="#f0ae08"/>
<line x1="1135.12" y1="563.72" x2="1135.12" y2="569.3" stroke="#c9ccd0" stroke-width="1.4"/>
<polygon points="1121.9,528.8 1135.1,521.9 1135.1,532.7 1121.9,539.7" fill="#b2b6bc"/>
<polygon points="1113.2,532.7 1121.9,528.8 1121.9,539.7 1116.6,536.5" fill="#8d9299"/>
<ellipse cx="1118.37" cy="529.53" rx="1.6" ry="1.2" fill="#f3c3a0"/>
<polygon points="1138.8,565 1152.5,557 1167.5,564.5 1153.8,573" fill="#5cb531"/>
<polygon points="1152.5,557 1167.5,550 1167.5,564.5 1152.5,573" fill="#46a02a"/>
<polygon points="1138.8,565 1153.8,573 1153.8,575.5 1138.8,567.5" fill="#3f8f25"/>
<line x1="1153.75" y1="575" x2="1153.75" y2="585" stroke="#b9bcc2" stroke-width="1.6"/>
<polygon points="1150,583.8 1157.5,581.2 1162,587.5 1155,591.2" fill="#cfd2d6"/>
<polygon points="1408.8,378 1619.2,500.3 1619.2,596.5 1408.8,474" fill="#f2f2f4"/>
<polygon points="1397.5,372 1629.8,495.3 1619.2,500.3 1408.8,378" fill="#fbfbfc"/>
<polygon points="1619.2,500.3 1629.8,495.3 1629.8,591.3 1619.2,596.5" fill="#eeeef0"/>
<polygon points="1415.8,394 1462,419.5 1462,451.2 1415.8,425.5" fill="#4b5563"/>
<polygon points="1416.8,396.5 1438.2,408.2 1438.2,435.8 1416.8,424" fill="#dbe6fb"/>
<polygon points="1439.5,409.2 1460,420.5 1460,447.8 1439.5,436.5" fill="#dbe6fb"/>
<polygon points="1352.5,397.5 1397.5,372 1408.8,378 1365,405" fill="#fbfbfc"/>
<polygon points="1352.5,397.5 1365,405 1365,498.8 1352.5,491.2" fill="#f4f4f5"/>
<polygon points="1365,405 1408.8,378.8 1408.8,477.5 1365,498.8" fill="#e9e9eb"/>
<polygon points="1516.2,591.2 1541.2,579.5 1567.5,599.5 1535,618" fill="#d9523f"/>
<polygon points="1487,568 1501.2,560.5 1504,562.5 1489.5,570.2" fill="#d9523f"/>
<polygon points="1534.5,453 1585.5,480 1585.5,580 1534.5,552.5" fill="#c4493a"/>
<text transform="translate(1540 485) rotate(27) skewX(-10) scale(1,1.22)" font-family="Liberation Serif,serif" font-style="italic" font-weight="400" font-size="17.5" fill="#fff">Shoes</text>
<polygon points="1501.2,461.2 1511.2,455.8 1535.6,469.2 1525.6,474.7" fill="#e0604c"/>
<polygon points="1501.2,461.2 1525.6,474.7 1525.6,476.4 1501.2,463" fill="#b03f31"/>
<polygon points="1501.2,483.8 1511.2,478.2 1535.6,491.7 1525.6,497.2" fill="#e0604c"/>
<polygon points="1501.2,483.8 1525.6,497.2 1525.6,498.9 1501.2,485.5" fill="#b03f31"/>
<path d="M1505 480.25 l1.2 -4.2 l2 0.6 l0.6 2.6 l4.2 3.2 l-0.4 1.4 z" fill="#f4ece4"/>
<path d="M1512.5 484.38 l1.2 -4.2 l2 0.6 l0.6 2.6 l4.2 3.2 l-0.4 1.4 z" fill="#1f3f6e"/>
<path d="M1520 488.5 l1.2 -4.2 l2 0.6 l0.6 2.6 l4.2 3.2 l-0.4 1.4 z" fill="#f2c21c"/>
<path d="M1527.5 492.62 l1.2 -4.2 l2 0.6 l0.6 2.6 l4.2 3.2 l-0.4 1.4 z" fill="#f2b21c"/>
<polygon points="1501.2,506.2 1511.2,500.8 1535.6,514.2 1525.6,519.7" fill="#e0604c"/>
<polygon points="1501.2,506.2 1525.6,519.7 1525.6,521.4 1501.2,508" fill="#b03f31"/>
<path d="M1505 502.75 l1.2 -4.2 l2 0.6 l0.6 2.6 l4.2 3.2 l-0.4 1.4 z" fill="#e8571c"/>
<path d="M1512.5 506.88 l1.2 -4.2 l2 0.6 l0.6 2.6 l4.2 3.2 l-0.4 1.4 z" fill="#f4ece4"/>
<path d="M1520 511 l1.2 -4.2 l2 0.6 l0.6 2.6 l4.2 3.2 l-0.4 1.4 z" fill="#1f3f6e"/>
<path d="M1527.5 515.12 l1.2 -4.2 l2 0.6 l0.6 2.6 l4.2 3.2 l-0.4 1.4 z" fill="#f2c21c"/>
<polygon points="1501.2,523.8 1511.2,518.2 1535.6,531.7 1525.6,537.2" fill="#e0604c"/>
<polygon points="1501.2,523.8 1525.6,537.2 1525.6,538.9 1501.2,525.5" fill="#b03f31"/>
<path d="M1505 520.25 l1.2 -4.2 l2 0.6 l0.6 2.6 l4.2 3.2 l-0.4 1.4 z" fill="#1f3f6e"/>
<path d="M1512.5 524.38 l1.2 -4.2 l2 0.6 l0.6 2.6 l4.2 3.2 l-0.4 1.4 z" fill="#f2c21c"/>
<path d="M1520 528.5 l1.2 -4.2 l2 0.6 l0.6 2.6 l4.2 3.2 l-0.4 1.4 z" fill="#f2b21c"/>
<path d="M1527.5 532.62 l1.2 -4.2 l2 0.6 l0.6 2.6 l4.2 3.2 l-0.4 1.4 z" fill="#e8571c"/>
<polygon points="1580,507.5 1590,502 1614.4,515.4 1604.4,520.9" fill="#e0604c"/>
<polygon points="1580,507.5 1604.4,520.9 1604.4,522.7 1580,509.2" fill="#b03f31"/>
<polygon points="1580,530 1590,524.5 1614.4,537.9 1604.4,543.4" fill="#e0604c"/>
<polygon points="1580,530 1604.4,543.4 1604.4,545.2 1580,531.8" fill="#b03f31"/>
<path d="M1583.75 526.5 l1.2 -4.2 l2 0.6 l0.6 2.6 l4.2 3.2 l-0.4 1.4 z" fill="#f2b21c"/>
<path d="M1591.25 530.62 l1.2 -4.2 l2 0.6 l0.6 2.6 l4.2 3.2 l-0.4 1.4 z" fill="#e8571c"/>
<path d="M1598.75 534.75 l1.2 -4.2 l2 0.6 l0.6 2.6 l4.2 3.2 l-0.4 1.4 z" fill="#f4ece4"/>
<path d="M1606.25 538.88 l1.2 -4.2 l2 0.6 l0.6 2.6 l4.2 3.2 l-0.4 1.4 z" fill="#1f3f6e"/>
<polygon points="1580,552.5 1590,547 1614.4,560.4 1604.4,565.9" fill="#e0604c"/>
<polygon points="1580,552.5 1604.4,565.9 1604.4,567.7 1580,554.2" fill="#b03f31"/>
<path d="M1583.75 549 l1.2 -4.2 l2 0.6 l0.6 2.6 l4.2 3.2 l-0.4 1.4 z" fill="#f2c21c"/>
<path d="M1591.25 553.12 l1.2 -4.2 l2 0.6 l0.6 2.6 l4.2 3.2 l-0.4 1.4 z" fill="#f2b21c"/>
<path d="M1598.75 557.25 l1.2 -4.2 l2 0.6 l0.6 2.6 l4.2 3.2 l-0.4 1.4 z" fill="#e8571c"/>
<path d="M1606.25 561.38 l1.2 -4.2 l2 0.6 l0.6 2.6 l4.2 3.2 l-0.4 1.4 z" fill="#f4ece4"/>
<polygon points="1580,572.5 1590,567 1614.4,580.4 1604.4,585.9" fill="#e0604c"/>
<polygon points="1580,572.5 1604.4,585.9 1604.4,587.7 1580,574.2" fill="#b03f31"/>
<path d="M1583.75 569 l1.2 -4.2 l2 0.6 l0.6 2.6 l4.2 3.2 l-0.4 1.4 z" fill="#f4ece4"/>
<path d="M1591.25 573.12 l1.2 -4.2 l2 0.6 l0.6 2.6 l4.2 3.2 l-0.4 1.4 z" fill="#1f3f6e"/>
<path d="M1598.75 577.25 l1.2 -4.2 l2 0.6 l0.6 2.6 l4.2 3.2 l-0.4 1.4 z" fill="#f2c21c"/>
<path d="M1606.25 581.38 l1.2 -4.2 l2 0.6 l0.6 2.6 l4.2 3.2 l-0.4 1.4 z" fill="#f2b21c"/>
<path d="M1548.96 539.56 L1559.04 539.56 L1557.96 575.56 L1554.43 575.56 L1554 555.4 L1553.57 575.56 L1550.04 575.56 Z" fill="#f0dcc0"/>
<ellipse cx="1551.41" cy="576.14" rx="2.88" ry="1.224" fill="#27304a"/>
<ellipse cx="1556.88" cy="576.42" rx="2.88" ry="1.224" fill="#27304a"/>
<path d="M1548.6 519.4 Q1554 515.08 1559.4 519.4 L1559.04 541 Q1554 543.16 1548.96 541 L1548.6 519.4 L1548.6 519.4 Z" fill="#f0dcc0"/>
<path d="M1548.6 519.4 L1546.8 521.56 L1547.16 539.56 L1549.54 539.56 Z" fill="#f0dcc0"/>
<path d="M1559.4 519.4 L1561.2 521.56 L1560.84 539.56 L1558.46 539.56 Z" fill="#f0dcc0"/>
<ellipse cx="1548.24" cy="540.64" rx="1.296" ry="1.44" fill="#f6c9a4"/>
<ellipse cx="1559.76" cy="540.64" rx="1.296" ry="1.44" fill="#f6c9a4"/>
<path d="M1552.42 514.36 L1555.58 514.36 L1555.58 518.68 L1552.42 518.68 Z" fill="#f6c9a4"/>
<ellipse cx="1554" cy="510.4" rx="3.744" ry="4.608" fill="#f6c9a4"/>
<path d="M1548.96 512.2 Q1548.82 505 1553.14 505 Q1557.74 505 1557.31 512.2 L1556.74 522.28 Q1553.14 519.4 1549.54 522.28 Z" fill="#7a3e22"/>
<ellipse cx="1555.56" cy="511.12" rx="2.592" ry="3.6" fill="#f6c9a4"/>
<polygon points="1521.2,530 1562.5,560 1562.5,582.5 1522.5,562.5" fill="#b03f31"/>
<polygon points="1562.5,560 1576.2,553.8 1576.2,577.5 1562.5,583.8" fill="#c4493a"/>
<polygon points="1520,529 1538,519 1577.5,545.5 1577.5,553 1560.5,561.5 1520,535" fill="#f7f5f4"/>
<polygon points="1520,531.5 1560.5,558 1560.5,561.5 1520,535" fill="#e9e4e2"/>
<line x1="1547.5" y1="528" x2="1540" y2="535" stroke="#f0dcc0" stroke-width="2.2" stroke-linecap="round"/>
<line x1="1558.75" y1="532.5" x2="1550" y2="540.5" stroke="#f0dcc0" stroke-width="2.2" stroke-linecap="round"/>
<polygon points="1511.2,577.5 1530,567.5 1542.5,575 1542.5,582.5 1520,593.8 1511.2,588.8" fill="#f4f4f6"/>
<path d="M1509.5 558.75 l8 -2 l4 14 l8 8 l2 12 l-14 4 l-6 -14 z" fill="#d4181f"/>
<ellipse cx="1514.5" cy="552" rx="3.4" ry="4" fill="#f6c9a4"/>
<path d="M1510 550.5 a4 4.4 0 0 1 8 0 l0 8 l-3 0 l0 -7 z" fill="#1c1a1e"/>
<line x1="1526.25" y1="586.25" x2="1528.75" y2="605" stroke="#f6c9a4" stroke-width="2.2"/>
<line x1="1531.25" y1="585" x2="1536.25" y2="602.5" stroke="#f6c9a4" stroke-width="2.2"/>
<polygon points="1417.5,477.5 1497.5,431.2 1497.5,526.2 1417.5,572.5" fill="#dcedf3" opacity="0.85"/>
<polyline points="1417.5,572.5 1417.5,477.5 1497.5,431.2 1497.5,526.2 1473.8,540" fill="none" stroke="#8a8e95" stroke-width="2.6"/>
<polyline points="1438.8,500 1438.8,487.5 1448.8,482.5 1448.8,495" fill="none" stroke="#8a8e95" stroke-width="2"/>
<polygon points="1351.6,529 1416.3,492 1416.3,591 1360,624 1351.6,618" fill="#a4e8ea"/>
<polygon points="1416.3,492 1454.6,511.4 1468.4,564.2 1480,582.5 1517.5,615 1517.5,655 1416.3,591" fill="#bdf3f5"/>
<polygon points="1340.3,522.8 1351.6,529 1351.6,618 1360,624 1340,605.5" fill="#c0f4f6"/>
<polygon points="1340.3,522.8 1416.3,479.4 1462.1,505.2 1454.6,511.4 1416.3,492 1351.6,529" fill="#d3fafb"/>
<polygon points="1454.6,511.4 1462.1,505.2 1475.9,557.9 1468.4,564.2" fill="#c4f6f7"/>
<polygon points="1468.4,564.2 1475.9,557.9 1490,567 1532.5,605.5 1517.5,615 1480,582.5" fill="#d3fafb"/>
<polygon points="1517.5,615 1532.5,605.5 1532.5,647.5 1517.5,655" fill="#a6e7e9"/>
<polygon points="1356.6,533.8 1394.9,512.2 1404.3,517.5 1366.7,538.8" fill="#fbfbfc"/>
<polygon points="1356.6,533.8 1366.7,538.8 1366.7,542.8 1356.6,537.8" fill="#e6e9ea"/>
<polygon points="1366.7,538.8 1404.3,517.5 1404.3,521.2 1366.7,542.8" fill="#f0f2f3"/>
<polygon points="1356.6,544.1 1394.9,523.4 1404.3,528.8 1367.9,550.4" fill="#fbfbfc"/>
<polygon points="1356.6,544.1 1367.9,550.4 1367.9,559.4 1356.6,553.1" fill="#e6e9ea"/>
<polygon points="1367.9,550.4 1404.3,528.8 1404.3,537.8 1367.9,559.4" fill="#f1f3f4"/>
<polygon points="1356.6,569.2 1389.3,553.9 1400.6,560.4 1367.9,578 1356.6,578" fill="#f6f7f8"/>
<polygon points="1356.2,572.5 1387.5,556.2 1392.5,600 1360,615" fill="#f4f7f7"/>
<polygon points="1367.5,581.2 1377.5,577.5 1380,585 1370,588.8" fill="#5cb6d8"/>
<polygon points="1382.5,571.2 1390,568.8 1391.2,577.5 1383.8,580" fill="#86c63a"/>
<polygon points="1423.2,527.8 1458.3,546.9 1458.3,574.5 1423.2,556.9" fill="#e3e8ea"/>
<path d="M1426.58 557.03 L1433.58 557.03 L1432.83 582.03 L1430.38 582.03 L1430.08 568.03 L1429.78 582.03 L1427.33 582.03 Z" fill="#8a9fb8"/>
<ellipse cx="1428.28" cy="582.43" rx="2" ry="0.85" fill="#27304a"/>
<ellipse cx="1432.08" cy="582.63" rx="2" ry="0.85" fill="#27304a"/>
<path d="M1426.33 543.03 Q1430.08 540.03 1433.83 543.03 L1433.58 558.03 Q1430.08 559.53 1426.58 558.03 L1426.33 543.03 L1426.33 543.03 Z" fill="#8a9fb8"/>
<path d="M1426.33 543.03 L1425.08 544.53 L1425.33 557.03 L1426.98 557.03 Z" fill="#8a9fb8"/>
<path d="M1433.83 543.03 L1435.08 544.53 L1434.83 557.03 L1433.18 557.03 Z" fill="#8a9fb8"/>
<ellipse cx="1426.08" cy="557.78" rx="0.9" ry="1" fill="#f6c9a4"/>
<ellipse cx="1434.08" cy="557.78" rx="0.9" ry="1" fill="#f6c9a4"/>
<path d="M1428.98 539.53 L1431.18 539.53 L1431.18 542.53 L1428.98 542.53 Z" fill="#f6c9a4"/>
<ellipse cx="1430.08" cy="536.78" rx="2.6" ry="3.2" fill="#f6c9a4"/>
<path d="M1426.68 536.78 Q1426.48 533.03 1429.48 533.03 Q1432.58 533.03 1432.28 536.78 Q1429.48 534.78 1426.68 536.78 Z" fill="#a89888"/>
<line x1="1435.73" y1="552.89" x2="1448.29" y2="553.89" stroke="#8a9fb8" stroke-width="2"/>
<polygon points="1410,577.5 1430,566.2 1453.8,580 1453.8,593.8 1433.8,604.5 1410,591.2" fill="#f3f3f5"/>
<polygon points="1410,577.5 1433.8,591.2 1433.8,604.5 1410,591.2" fill="#e4e4e7"/>
<polygon points="1453.8,581.2 1471.2,572.5 1487.5,582.5 1487.5,626.2 1471.2,636.2 1453.8,626.2" fill="#f5f5f6"/>
<polygon points="1453.8,581.2 1471.2,591.2 1471.2,636.2 1453.8,626.2" fill="#e6e6e8"/>
<polygon points="1477.5,612.5 1496.2,602.5 1516.2,615 1516.2,646.2 1497.5,657.5 1477.5,645" fill="#f1f1f3"/>
<polygon points="1477.5,612.5 1497.5,623.8 1497.5,657.5 1477.5,645" fill="#dededf"/>
<line x1="1479.5" y1="623.75" x2="1496.5" y2="633.5" stroke="#8f9096" stroke-width="1.3"/>
<line x1="1479.5" y1="631.75" x2="1496.5" y2="641.5" stroke="#8f9096" stroke-width="1.3"/>
<line x1="1479.5" y1="639.75" x2="1496.5" y2="649.5" stroke="#8f9096" stroke-width="1.3"/>
<line x1="1456.25" y1="598.75" x2="1469.5" y2="606.5" stroke="#8f9096" stroke-width="1.3"/>
<line x1="1456.25" y1="622.5" x2="1469.5" y2="630.25" stroke="#8f9096" stroke-width="1.3"/>
<line x1="1413.75" y1="584.5" x2="1431.25" y2="594.5" stroke="#8f9096" stroke-width="1.2"/>
<polyline points="1493.8,608.8 1493.8,603.8 1501.2,607" fill="none" stroke="#9a9da2" stroke-width="1.2"/>
<polyline points="1432.5,570 1432.5,564.5 1440,568" fill="none" stroke="#9a9da2" stroke-width="1.2"/>
<polygon points="1285,553.8 1340,577.5 1355,622.5 1355,625 1285,587.5" fill="#a9e2df"/>
<polygon points="1285,553.8 1290,551.2 1343.8,575 1340,577.5" fill="#c8f0ea"/>
<path d="M1394.68 585.48 L1405.32 585.48 L1404.18 623.48 L1400.46 623.48 L1400 602.2 L1399.54 623.48 L1395.82 623.48 Z" fill="#162c5c"/>
<ellipse cx="1397.26" cy="624.09" rx="3.04" ry="1.292" fill="#1c1c24"/>
<ellipse cx="1403.04" cy="624.39" rx="3.04" ry="1.292" fill="#1c1c24"/>
<path d="M1394.3 564.2 Q1400 559.64 1405.7 564.2 L1405.32 587 Q1400 589.28 1394.68 587 L1394.3 564.2 L1394.3 564.2 Z" fill="#1f3c78"/>
<path d="M1394.3 564.2 L1392.4 566.48 L1392.78 585.48 L1395.29 585.48 Z" fill="#1f3c78"/>
<path d="M1405.7 564.2 L1407.6 566.48 L1407.22 585.48 L1404.71 585.48 Z" fill="#1f3c78"/>
<ellipse cx="1393.92" cy="586.62" rx="1.368" ry="1.52" fill="#f6c9a4"/>
<ellipse cx="1406.08" cy="586.62" rx="1.368" ry="1.52" fill="#f6c9a4"/>
<path d="M1398.33 558.88 L1401.67 558.88 L1401.67 563.44 L1398.33 563.44 Z" fill="#f6c9a4"/>
<ellipse cx="1400" cy="554.7" rx="3.952" ry="4.864" fill="#f6c9a4"/>
<path d="M1394.83 554.7 Q1394.53 549 1399.09 549 Q1403.8 549 1403.34 554.7 Q1399.09 551.66 1394.83 554.7 Z" fill="#7a3e22"/>
<line x1="1406" y1="570" x2="1424" y2="570.5" stroke="#1f3c78" stroke-width="3" stroke-linecap="round"/>
<circle cx="1426.5" cy="570.3" r="1.5" fill="#f3c3a0"/>
<polygon points="1399,563 1401,563 1400.6,577 1399.4,577" fill="#dfe6f0"/>
<path d="M1415.79 623.19 L1426.71 623.19 L1425.54 662.19 L1421.72 662.19 L1421.25 640.35 L1420.78 662.19 L1416.96 662.19 Z" fill="#17386b"/>
<ellipse cx="1418.44" cy="662.81" rx="3.12" ry="1.326" fill="#2a7fd0"/>
<ellipse cx="1424.37" cy="663.13" rx="3.12" ry="1.326" fill="#2a7fd0"/>
<path d="M1415.4 601.35 Q1421.25 596.67 1427.1 601.35 L1426.71 624.75 Q1421.25 627.09 1415.79 624.75 L1415.4 601.35 L1415.4 601.35 Z" fill="#1f8a94"/>
<path d="M1415.4 601.35 L1413.45 603.69 L1413.84 623.19 L1416.41 623.19 Z" fill="#1f8a94"/>
<path d="M1427.1 601.35 L1429.05 603.69 L1428.66 623.19 L1426.09 623.19 Z" fill="#1f8a94"/>
<ellipse cx="1415.01" cy="624.36" rx="1.404" ry="1.56" fill="#f6c9a4"/>
<ellipse cx="1427.49" cy="624.36" rx="1.404" ry="1.56" fill="#f6c9a4"/>
<path d="M1419.53 595.89 L1422.97 595.89 L1422.97 600.57 L1419.53 600.57 Z" fill="#f6c9a4"/>
<ellipse cx="1421.25" cy="591.6" rx="4.056" ry="4.992" fill="#f6c9a4"/>
<path d="M1415.95 591.6 Q1415.63 585.75 1420.31 585.75 Q1425.15 585.75 1424.68 591.6 Q1420.31 588.48 1415.95 591.6 Z" fill="#17171c"/>
<path d="M1431.49 632.14 L1441.01 632.14 L1439.99 666.14 L1436.66 666.14 L1436.25 647.1 L1435.84 666.14 L1432.51 666.14 Z" fill="#17386b"/>
<ellipse cx="1433.8" cy="666.68" rx="2.72" ry="1.156" fill="#2a9fd0"/>
<ellipse cx="1438.97" cy="666.96" rx="2.72" ry="1.156" fill="#2a9fd0"/>
<path d="M1431.15 613.1 Q1436.25 609.02 1441.35 613.1 L1441.01 633.5 Q1436.25 635.54 1431.49 633.5 L1431.15 613.1 L1431.15 613.1 Z" fill="#7cc0e2"/>
<path d="M1431.15 613.1 L1429.45 615.14 L1429.79 632.14 L1432.03 632.14 Z" fill="#7cc0e2"/>
<path d="M1441.35 613.1 L1443.05 615.14 L1442.71 632.14 L1440.47 632.14 Z" fill="#7cc0e2"/>
<ellipse cx="1430.81" cy="633.16" rx="1.224" ry="1.36" fill="#f6c9a4"/>
<ellipse cx="1441.69" cy="633.16" rx="1.224" ry="1.36" fill="#f6c9a4"/>
<path d="M1434.75 608.34 L1437.75 608.34 L1437.75 612.42 L1434.75 612.42 Z" fill="#f6c9a4"/>
<ellipse cx="1436.25" cy="604.6" rx="3.536" ry="4.352" fill="#f6c9a4"/>
<path d="M1431.49 606.3 Q1431.35 599.5 1435.43 599.5 Q1439.79 599.5 1439.38 606.3 L1438.83 615.82 Q1435.43 613.1 1432.03 615.82 Z" fill="#7a3820"/>
<ellipse cx="1437.72" cy="605.28" rx="2.448" ry="3.4" fill="#f6c9a4"/>
<line x1="1431" y1="625" x2="1445" y2="628" stroke="#a8d8f0" stroke-width="2.2" stroke-linecap="round"/>
<circle cx="1447" cy="628.4" r="1.3" fill="#f3c3a0"/>
<polygon points="1287.5,622.5 1390,670 1390,715 1370,722.5 1287.5,680" fill="#d9f7f4"/>
<polygon points="1287.5,625 1387.5,670 1387.5,676.2 1287.5,631.2" fill="#f2fdfc"/>
<polygon points="1287.5,657.5 1387.5,692.5 1387.5,698.8 1287.5,663.8" fill="#f2fdfc"/>
<polygon points="1330,685 1387.5,712.5 1387.5,718.8 1330,691.2" fill="#f2fdfc"/>
<polygon points="1390,657.5 1412.5,680 1412.5,715 1401.2,722.5 1390,712.5" fill="#a9e2df"/>
<polygon points="1401.2,690 1412.5,682.5 1412.5,715 1401.2,722.5" fill="#8fd0c8"/>
<polygon points="1391.2,653.8 1430,677.5 1437.5,680 1437.5,700 1413.8,712.5 1413.8,680" fill="#e9e9eb"/>
<polygon points="1395,660 1430,680 1415,687.5" fill="#c9c9cc"/>
<ellipse cx="1296.25" cy="615" rx="9.1" ry="10.85" fill="#f2a8b8"/>
<ellipse cx="1296.25" cy="616.75" rx="5.25" ry="6.65" fill="#fbd5dc"/>
<circle cx="1296.25" cy="600.3" r="7.35" fill="#f2a8b8"/>
<circle cx="1289.95" cy="594.7" r="2.8" fill="#f2a8b8"/>
<circle cx="1302.55" cy="594.7" r="2.8" fill="#f2a8b8"/>
<ellipse cx="1296.25" cy="602.05" rx="3.5" ry="2.625" fill="#fbd5dc"/>
<ellipse cx="1288.2" cy="624.625" rx="4.55" ry="3.15" fill="#f2a8b8"/>
<ellipse cx="1304.3" cy="624.625" rx="4.55" ry="3.15" fill="#f2a8b8"/>
<ellipse cx="1311.25" cy="625" rx="5.46" ry="6.51" fill="#f2a8b8"/>
<ellipse cx="1311.25" cy="626.05" rx="3.15" ry="3.99" fill="#fbd5dc"/>
<circle cx="1311.25" cy="616.18" r="4.41" fill="#f2a8b8"/>
<circle cx="1307.47" cy="612.82" r="1.68" fill="#f2a8b8"/>
<circle cx="1315.03" cy="612.82" r="1.68" fill="#f2a8b8"/>
<ellipse cx="1311.25" cy="617.23" rx="2.1" ry="1.575" fill="#fbd5dc"/>
<ellipse cx="1306.42" cy="630.775" rx="2.73" ry="1.89" fill="#f2a8b8"/>
<ellipse cx="1316.08" cy="630.775" rx="2.73" ry="1.89" fill="#f2a8b8"/>
<ellipse cx="1323.25" cy="632" rx="3.9" ry="4.65" fill="#f2a8b8"/>
<ellipse cx="1323.25" cy="632.75" rx="2.25" ry="2.85" fill="#fbd5dc"/>
<circle cx="1323.25" cy="625.7" r="3.15" fill="#f2a8b8"/>
<circle cx="1320.55" cy="623.3" r="1.2" fill="#f2a8b8"/>
<circle cx="1325.95" cy="623.3" r="1.2" fill="#f2a8b8"/>
<ellipse cx="1323.25" cy="626.45" rx="1.5" ry="1.125" fill="#fbd5dc"/>
<ellipse cx="1319.8" cy="636.125" rx="1.95" ry="1.35" fill="#f2a8b8"/>
<ellipse cx="1326.7" cy="636.125" rx="1.95" ry="1.35" fill="#f2a8b8"/>
<ellipse cx="1335" cy="633.75" rx="10.4" ry="12.4" fill="#b9805a"/>
<ellipse cx="1335" cy="635.75" rx="6" ry="7.6" fill="#e0b896"/>
<circle cx="1335" cy="616.95" r="8.4" fill="#b9805a"/>
<circle cx="1327.8" cy="610.55" r="3.2" fill="#b9805a"/>
<circle cx="1342.2" cy="610.55" r="3.2" fill="#b9805a"/>
<ellipse cx="1335" cy="618.95" rx="4" ry="3" fill="#e0b896"/>
<ellipse cx="1325.8" cy="644.75" rx="5.2" ry="3.6" fill="#b9805a"/>
<ellipse cx="1344.2" cy="644.75" rx="5.2" ry="3.6" fill="#b9805a"/>
<ellipse cx="1352" cy="644.5" rx="7.8" ry="9.3" fill="#b9805a"/>
<ellipse cx="1352" cy="646" rx="4.5" ry="5.7" fill="#e0b896"/>
<circle cx="1352" cy="631.9" r="6.3" fill="#b9805a"/>
<circle cx="1346.6" cy="627.1" r="2.4" fill="#b9805a"/>
<circle cx="1357.4" cy="627.1" r="2.4" fill="#b9805a"/>
<ellipse cx="1352" cy="633.4" rx="3" ry="2.25" fill="#e0b896"/>
<ellipse cx="1345.1" cy="652.75" rx="3.9" ry="2.7" fill="#b9805a"/>
<ellipse cx="1358.9" cy="652.75" rx="3.9" ry="2.7" fill="#b9805a"/>
<ellipse cx="1365" cy="653.75" rx="5.98" ry="7.13" fill="#b9805a"/>
<ellipse cx="1365" cy="654.9" rx="3.45" ry="4.37" fill="#e0b896"/>
<circle cx="1365" cy="644.09" r="4.83" fill="#b9805a"/>
<circle cx="1360.86" cy="640.41" r="1.84" fill="#b9805a"/>
<circle cx="1369.14" cy="640.41" r="1.84" fill="#b9805a"/>
<ellipse cx="1365" cy="645.24" rx="2.3" ry="1.725" fill="#e0b896"/>
<ellipse cx="1359.71" cy="660.075" rx="2.99" ry="2.07" fill="#b9805a"/>
<ellipse cx="1370.29" cy="660.075" rx="2.99" ry="2.07" fill="#b9805a"/>
<ellipse cx="1377.5" cy="660.75" rx="5.2" ry="6.2" fill="#b9805a"/>
<ellipse cx="1377.5" cy="661.75" rx="3" ry="3.8" fill="#e0b896"/>
<circle cx="1377.5" cy="652.35" r="4.2" fill="#b9805a"/>
<circle cx="1373.9" cy="649.15" r="1.6" fill="#b9805a"/>
<circle cx="1381.1" cy="649.15" r="1.6" fill="#b9805a"/>
<ellipse cx="1377.5" cy="653.35" rx="2" ry="1.5" fill="#e0b896"/>
<ellipse cx="1372.9" cy="666.25" rx="2.6" ry="1.8" fill="#b9805a"/>
<ellipse cx="1382.1" cy="666.25" rx="2.6" ry="1.8" fill="#b9805a"/>
<ellipse cx="1340" cy="670" rx="4.42" ry="5.27" fill="#b79be0"/>
<ellipse cx="1340" cy="670.85" rx="2.55" ry="3.23" fill="#dccff2"/>
<circle cx="1340" cy="662.86" r="3.57" fill="#b79be0"/>
<circle cx="1336.94" cy="660.14" r="1.36" fill="#b79be0"/>
<circle cx="1343.06" cy="660.14" r="1.36" fill="#b79be0"/>
<ellipse cx="1340" cy="663.71" rx="1.7" ry="1.275" fill="#dccff2"/>
<ellipse cx="1336.09" cy="674.675" rx="2.21" ry="1.53" fill="#b79be0"/>
<ellipse cx="1343.91" cy="674.675" rx="2.21" ry="1.53" fill="#b79be0"/>
<ellipse cx="1352.5" cy="677.5" rx="4.16" ry="4.96" fill="#b79be0"/>
<ellipse cx="1352.5" cy="678.3" rx="2.4" ry="3.04" fill="#dccff2"/>
<circle cx="1352.5" cy="670.78" r="3.36" fill="#b79be0"/>
<circle cx="1349.62" cy="668.22" r="1.28" fill="#b79be0"/>
<circle cx="1355.38" cy="668.22" r="1.28" fill="#b79be0"/>
<ellipse cx="1352.5" cy="671.58" rx="1.6" ry="1.2" fill="#dccff2"/>
<ellipse cx="1348.82" cy="681.9" rx="2.08" ry="1.44" fill="#b79be0"/>
<ellipse cx="1356.18" cy="681.9" rx="2.08" ry="1.44" fill="#b79be0"/>
<ellipse cx="1363.75" cy="683" rx="3.9" ry="4.65" fill="#ececf0"/>
<ellipse cx="1363.75" cy="683.75" rx="2.25" ry="2.85" fill="#ffffff"/>
<circle cx="1363.75" cy="676.7" r="3.15" fill="#ececf0"/>
<circle cx="1361.05" cy="674.3" r="1.2" fill="#ececf0"/>
<circle cx="1366.45" cy="674.3" r="1.2" fill="#ececf0"/>
<ellipse cx="1363.75" cy="677.45" rx="1.5" ry="1.125" fill="#ffffff"/>
<ellipse cx="1360.3" cy="687.125" rx="1.95" ry="1.35" fill="#ececf0"/>
<ellipse cx="1367.2" cy="687.125" rx="1.95" ry="1.35" fill="#ececf0"/>
<ellipse cx="1376.25" cy="687.5" rx="4.16" ry="4.96" fill="#ececf0"/>
<ellipse cx="1376.25" cy="688.3" rx="2.4" ry="3.04" fill="#ffffff"/>
<circle cx="1376.25" cy="680.78" r="3.36" fill="#ececf0"/>
<circle cx="1373.37" cy="678.22" r="1.28" fill="#ececf0"/>
<circle cx="1379.13" cy="678.22" r="1.28" fill="#ececf0"/>
<ellipse cx="1376.25" cy="681.58" rx="1.6" ry="1.2" fill="#ffffff"/>
<ellipse cx="1372.57" cy="691.9" rx="2.08" ry="1.44" fill="#ececf0"/>
<ellipse cx="1379.93" cy="691.9" rx="2.08" ry="1.44" fill="#ececf0"/>
<ellipse cx="1302.5" cy="671.25" rx="4.42" ry="5.27" fill="#f4d9cf"/>
<ellipse cx="1302.5" cy="672.1" rx="2.55" ry="3.23" fill="#fbece6"/>
<circle cx="1302.5" cy="664.11" r="3.57" fill="#f4d9cf"/>
<circle cx="1299.44" cy="661.39" r="1.36" fill="#f4d9cf"/>
<circle cx="1305.56" cy="661.39" r="1.36" fill="#f4d9cf"/>
<ellipse cx="1302.5" cy="664.96" rx="1.7" ry="1.275" fill="#fbece6"/>
<ellipse cx="1298.59" cy="675.925" rx="2.21" ry="1.53" fill="#f4d9cf"/>
<ellipse cx="1306.41" cy="675.925" rx="2.21" ry="1.53" fill="#f4d9cf"/>
<polygon points="1293.8,640 1302.5,636.2 1308.8,640 1308.8,648.8 1300,652.5 1293.8,648.8" fill="#e7a3c3"/>
<polygon points="1297.5,638.8 1305,636.2 1305,645 1297.5,648" fill="#c4b0e6"/>
<polygon points="1338.5,687.5 1346.5,691.5 1346.5,701.5 1338.5,697.5" fill="#f3c9d3" stroke="#4a4048" stroke-width="1"/>
<polygon points="1351,693.8 1359,697.8 1359,707.8 1351,703.8" fill="#f3c9d3" stroke="#4a4048" stroke-width="1"/>
<polygon points="1363.5,700 1371.5,704 1371.5,714 1363.5,710" fill="#f3c9d3" stroke="#4a4048" stroke-width="1"/>
<polygon points="1222.3,721.2 1254.4,701.6 1326.3,742.1 1290.7,762.3" fill="#f6e0d4"/>
<polygon points="1222.3,721.2 1290.7,762.3 1290.7,782.8 1222.3,741.6" fill="#dab8a6"/>
<polygon points="1290.7,762.3 1326.3,742.1 1326.3,762.4 1290.7,782.8" fill="#e8cbb9"/>
<polygon points="1266.3,721.9 1275.4,726.8 1275.4,737.9 1266.3,732.8" fill="#c4145a"/>
<polygon points="1275.4,726.8 1284.4,721.9 1284.4,732.8 1275.4,737.9" fill="#9c0f46"/>
<polygon points="1266.3,721.9 1275.4,717.4 1284.4,721.9 1275.4,726.8" fill="#d8306e"/>
<polygon points="1268.1,714.2 1275.4,718.4 1275.4,726.8 1268.1,722.6" fill="#f5a41c"/>
<polygon points="1275.4,718.4 1282.6,714.2 1282.6,722.6 1275.4,726.8" fill="#df8a10"/>
<polygon points="1269.8,707.2 1275.4,710.3 1275.4,718.4 1269.8,714.9" fill="#3fae3a"/>
<polygon points="1275.4,710.3 1281,707.2 1281,714.9 1275.4,718.4" fill="#2a8c2a"/>
<polygon points="1275.4,698.6 1269.8,707.2 1275.4,710.3" fill="#45aef0"/>
<polygon points="1275.4,698.6 1275.4,710.3 1281,707.2" fill="#2a8cd8"/>
<polygon points="1286.8,724.9 1302.9,733.3 1302.9,737.5 1286.8,729.1" fill="#c2165a"/>
<polygon points="1302.9,733.3 1319.3,724.9 1319.3,729.1 1302.9,737.5" fill="#960e44"/>
<polygon points="1286.8,727.5 1291.7,730 1291.7,743.1 1286.8,740.6" fill="#c2165a"/>
<polygon points="1299.8,734.4 1302.9,735.8 1302.9,751.2 1299.8,749.8" fill="#c2165a"/>
<polygon points="1302.9,735.8 1306.3,734.1 1306.3,749.5 1302.9,751.2" fill="#960e44"/>
<polygon points="1315.1,729.1 1319.3,727 1319.3,740.3 1315.1,742.5" fill="#960e44"/>
<polygon points="1285.4,721.9 1302.9,713.2 1320.3,721.9 1302.9,730.9" fill="#f9cb2a"/>
<polygon points="1285.4,721.9 1302.9,730.9 1302.9,733.9 1285.4,724.9" fill="#eeb312"/>
<polygon points="1302.9,730.9 1320.3,721.9 1320.3,724.9 1302.9,733.9" fill="#d89c0a"/>
<polygon points="1302.9,700.9 1289.3,722.1 1302.9,728.9" fill="#30b33e"/>
<polygon points="1302.9,700.9 1302.9,728.9 1316.5,721.9" fill="#1e8e2e"/>
<path d="M1274.96 658.81 L1285.04 658.81 L1283.96 694.81 L1280.43 694.81 L1280 674.65 L1279.57 694.81 L1276.04 694.81 Z" fill="#3f6fa0"/>
<ellipse cx="1277.41" cy="695.39" rx="2.88" ry="1.224" fill="#27304a"/>
<ellipse cx="1282.88" cy="695.67" rx="2.88" ry="1.224" fill="#27304a"/>
<path d="M1274.6 638.65 Q1280 634.33 1285.4 638.65 L1285.04 660.25 Q1280 662.41 1274.96 660.25 L1274.6 638.65 L1274.6 638.65 Z" fill="#dfe9f7"/>
<path d="M1274.6 638.65 L1272.8 640.81 L1273.16 658.81 L1275.54 658.81 Z" fill="#dfe9f7"/>
<path d="M1285.4 638.65 L1287.2 640.81 L1286.84 658.81 L1284.46 658.81 Z" fill="#dfe9f7"/>
<ellipse cx="1274.24" cy="659.89" rx="1.296" ry="1.44" fill="#f6c9a4"/>
<ellipse cx="1285.76" cy="659.89" rx="1.296" ry="1.44" fill="#f6c9a4"/>
<path d="M1278.42 633.61 L1281.58 633.61 L1281.58 637.93 L1278.42 637.93 Z" fill="#f6c9a4"/>
<ellipse cx="1280" cy="629.65" rx="3.744" ry="4.608" fill="#f6c9a4"/>
<path d="M1274.96 631.45 Q1274.82 624.25 1279.14 624.25 Q1283.74 624.25 1283.31 631.45 L1282.74 641.53 Q1279.14 638.65 1275.54 641.53 Z" fill="#17171c"/>
<ellipse cx="1281.56" cy="630.37" rx="2.592" ry="3.6" fill="#f6c9a4"/>
<path d="M1265.7 685.6 L1267.02 685.6 L1266.86 699.2 L1265.9 699.2 Z" fill="#f6c9a4"/>
<path d="M1267.82 685.6 L1269.3 685.6 L1268.94 699.2 L1267.98 699.2 Z" fill="#f6c9a4"/>
<path d="M1264.7 678 L1270.3 678 Q1271.5 683.2 1270.5 688 L1264.5 688 Z" fill="#e8285a"/>
<ellipse cx="1266.06" cy="699.52" rx="1.6" ry="0.68" fill="#27304a"/>
<ellipse cx="1269.1" cy="699.68" rx="1.6" ry="0.68" fill="#27304a"/>
<path d="M1264.5 668 Q1267.5 665.6 1270.5 668 L1270.3 680 Q1267.5 681.2 1264.7 680 L1264.5 668 L1264.5 668 Z" fill="#e8285a"/>
<path d="M1264.5 668 L1263.5 669.2 L1263.7 679.2 L1265.02 679.2 Z" fill="#e8285a"/>
<path d="M1270.5 668 L1271.5 669.2 L1271.3 679.2 L1269.98 679.2 Z" fill="#e8285a"/>
<ellipse cx="1264.3" cy="679.8" rx="0.72" ry="0.8" fill="#f6c9a4"/>
<ellipse cx="1270.7" cy="679.8" rx="0.72" ry="0.8" fill="#f6c9a4"/>
<path d="M1266.62 665.2 L1268.38 665.2 L1268.38 667.6 L1266.62 667.6 Z" fill="#f6c9a4"/>
<ellipse cx="1267.5" cy="663" rx="2.08" ry="2.56" fill="#f6c9a4"/>
<path d="M1264.78 663 Q1264.62 660 1267.02 660 Q1269.5 660 1269.26 663 Q1267.02 661.4 1264.78 663 Z" fill="#8a3a20"/>
<circle cx="1262.5" cy="665" r="1.6" fill="#8a3a20"/>
<circle cx="1273" cy="664" r="1.6" fill="#8a3a20"/>
<path d="M1320.6 714.8 L1322.91 714.8 L1322.63 738.6 L1320.95 738.6 Z" fill="#f6c9a4"/>
<path d="M1324.31 714.8 L1326.9 714.8 L1326.27 738.6 L1324.59 738.6 Z" fill="#f6c9a4"/>
<path d="M1318.85 701.5 L1328.65 701.5 Q1330.75 710.6 1329 719 L1318.5 719 Z" fill="#17386b"/>
<ellipse cx="1321.23" cy="739.16" rx="2.8" ry="1.19" fill="#27304a"/>
<ellipse cx="1326.55" cy="739.44" rx="2.8" ry="1.19" fill="#27304a"/>
<path d="M1318.5 684 Q1323.75 679.8 1329 684 L1328.65 705 Q1323.75 707.1 1318.85 705 L1318.5 684 L1318.5 684 Z" fill="#f2605f"/>
<path d="M1318.5 684 L1316.75 686.1 L1317.1 703.6 L1319.41 703.6 Z" fill="#f2605f"/>
<path d="M1329 684 L1330.75 686.1 L1330.4 703.6 L1328.09 703.6 Z" fill="#f2605f"/>
<ellipse cx="1318.15" cy="704.65" rx="1.26" ry="1.4" fill="#f6c9a4"/>
<ellipse cx="1329.35" cy="704.65" rx="1.26" ry="1.4" fill="#f6c9a4"/>
<path d="M1322.21 679.1 L1325.29 679.1 L1325.29 683.3 L1322.21 683.3 Z" fill="#f6c9a4"/>
<ellipse cx="1323.75" cy="675.25" rx="3.64" ry="4.48" fill="#f6c9a4"/>
<path d="M1318.85 677 Q1318.71 670 1322.91 670 Q1327.39 670 1326.97 677 L1326.41 686.8 Q1322.91 684 1319.41 686.8 Z" fill="#6a3018"/>
<ellipse cx="1325.26" cy="675.95" rx="2.52" ry="3.5" fill="#f6c9a4"/>
<path d="M1334.27 730.41 L1335.72 730.41 L1335.55 745.37 L1334.49 745.37 Z" fill="#f6c9a4"/>
<path d="M1336.6 730.41 L1338.23 730.41 L1337.83 745.37 L1336.78 745.37 Z" fill="#f6c9a4"/>
<path d="M1333.17 722.05 L1339.33 722.05 Q1340.65 727.77 1339.55 733.05 L1332.95 733.05 Z" fill="#f7d21c"/>
<ellipse cx="1334.67" cy="745.72" rx="1.76" ry="0.748" fill="#27304a"/>
<ellipse cx="1338.01" cy="745.9" rx="1.76" ry="0.748" fill="#27304a"/>
<path d="M1332.95 711.05 Q1336.25 708.41 1339.55 711.05 L1339.33 724.25 Q1336.25 725.57 1333.17 724.25 L1332.95 711.05 L1332.95 711.05 Z" fill="#f7d21c"/>
<path d="M1332.95 711.05 L1331.85 712.37 L1332.07 723.37 L1333.52 723.37 Z" fill="#f7d21c"/>
<path d="M1339.55 711.05 L1340.65 712.37 L1340.43 723.37 L1338.98 723.37 Z" fill="#f7d21c"/>
<ellipse cx="1332.73" cy="724.03" rx="0.792" ry="0.88" fill="#f6c9a4"/>
<ellipse cx="1339.77" cy="724.03" rx="0.792" ry="0.88" fill="#f6c9a4"/>
<path d="M1335.28 707.97 L1337.22 707.97 L1337.22 710.61 L1335.28 710.61 Z" fill="#f6c9a4"/>
<ellipse cx="1336.25" cy="705.55" rx="2.288" ry="2.816" fill="#f6c9a4"/>
<path d="M1333.26 705.55 Q1333.08 702.25 1335.72 702.25 Q1338.45 702.25 1338.19 705.55 Q1335.72 703.79 1333.26 705.55 Z" fill="#c47a2a"/>
<ellipse cx="1295.5" cy="660" rx="5.4" ry="3.6" fill="#2b2b30"/>
<rect x="1269.75" y="622.25" width="19.8" height="19.4" rx="1.2" fill="none" stroke="#f5262c" stroke-width="1.9"/>
<rect x="1311" y="670.25" width="19.8" height="19.4" rx="1.2" fill="none" stroke="#f5262c" stroke-width="1.9"/>
<polyline points="1250,212.5 1172.5,212.5 1172.5,250" fill="none" stroke="#2f55a4" stroke-width="2.8" stroke-dasharray="0.01 7.4" stroke-linecap="round"/>
<circle cx="1254.2" cy="212.5" r="4" fill="#2f55a4"/>
<polyline points="1417,316.2 1283,316.2 1283,398" fill="none" stroke="#2f55a4" stroke-width="2.8" stroke-dasharray="0.01 7.4" stroke-linecap="round"/>
<circle cx="1421.2" cy="316.2" r="4" fill="#2f55a4"/>
<polyline points="1522,367.5 1445,367.5 1445,405" fill="none" stroke="#2f55a4" stroke-width="2.8" stroke-dasharray="0.01 7.4" stroke-linecap="round"/>
<circle cx="1526.2" cy="367.5" r="4" fill="#2f55a4"/>
<polyline points="928,462 928,645" fill="none" stroke="#2f55a4" stroke-width="2.8" stroke-dasharray="0.01 7.4" stroke-linecap="round"/>
<circle cx="928" cy="649" r="4" fill="#2f55a4"/>
<polyline points="1038,538 1038,645" fill="none" stroke="#2f55a4" stroke-width="2.8" stroke-dasharray="0.01 7.4" stroke-linecap="round"/>
<circle cx="1038" cy="648.5" r="4" fill="#2f55a4"/>
<polyline points="1268,633 1182,633 1182,710" fill="none" stroke="#2f55a4" stroke-width="2.8" stroke-dasharray="0.01 7.4" stroke-linecap="round"/>
<circle cx="1182" cy="713.5" r="4" fill="#2f55a4"/>

</svg>

<div class="lab" style="left:1261.5px;top:200.5px;width:78px">广告屏</div>
<div class="lab" style="left:1431px;top:303.7px;width:229px">顾客属性识别(会员/普通客户)</div>
<div class="lab" style="left:1534.5px;top:354.5px;width:78px">广告屏</div>
<div class="lab" style="left:839px;top:657px;width:139px">精准推送拼接屏</div>
<div class="lab" style="left:995px;top:657px;width:138px">精准推送广告屏</div>
<div class="lab" style="left:1134px;top:722px;width:79px">客流统计</div>
</body>
</html>
